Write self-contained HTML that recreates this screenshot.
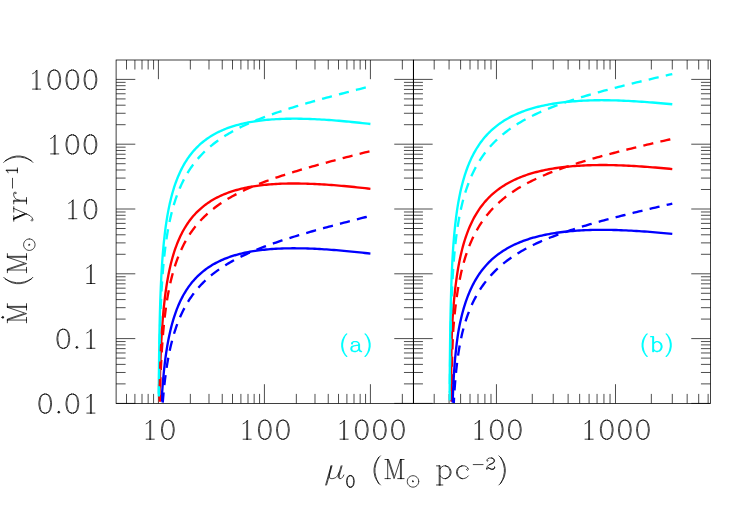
<!DOCTYPE html><html><head><meta charset="utf-8"><title>plot</title><style>html,body{margin:0;padding:0;background:#fff;font-family:"Liberation Sans",sans-serif}svg{display:block}</style></head><body><svg width="750" height="518" viewBox="0 0 750 518" fill="none"><defs><clipPath id="cl"><rect x="116.10" y="60.00" width="594.35" height="343.40"/></clipPath></defs><path d="M126.51 403.40L126.51 393.90" stroke="#000" stroke-width="0.70" />
<path d="M126.51 60.00L126.51 69.50" stroke="#000" stroke-width="0.70" />
<path d="M134.90 403.40L134.90 393.90" stroke="#000" stroke-width="0.70" />
<path d="M134.90 60.00L134.90 69.50" stroke="#000" stroke-width="0.70" />
<path d="M142.00 403.40L142.00 393.90" stroke="#000" stroke-width="0.70" />
<path d="M142.00 60.00L142.00 69.50" stroke="#000" stroke-width="0.70" />
<path d="M148.15 403.40L148.15 393.90" stroke="#000" stroke-width="0.70" />
<path d="M148.15 60.00L148.15 69.50" stroke="#000" stroke-width="0.70" />
<path d="M153.57 403.40L153.57 393.90" stroke="#000" stroke-width="0.70" />
<path d="M153.57 60.00L153.57 69.50" stroke="#000" stroke-width="0.70" />
<path d="M158.42 403.40L158.42 384.20" stroke="#000" stroke-width="0.70" />
<path d="M158.42 60.00L158.42 79.20" stroke="#000" stroke-width="0.70" />
<path d="M190.33 403.40L190.33 393.90" stroke="#000" stroke-width="0.70" />
<path d="M190.33 60.00L190.33 69.50" stroke="#000" stroke-width="0.70" />
<path d="M208.99 403.40L208.99 393.90" stroke="#000" stroke-width="0.70" />
<path d="M208.99 60.00L208.99 69.50" stroke="#000" stroke-width="0.70" />
<path d="M222.24 403.40L222.24 393.90" stroke="#000" stroke-width="0.70" />
<path d="M222.24 60.00L222.24 69.50" stroke="#000" stroke-width="0.70" />
<path d="M232.51 403.40L232.51 393.90" stroke="#000" stroke-width="0.70" />
<path d="M232.51 60.00L232.51 69.50" stroke="#000" stroke-width="0.70" />
<path d="M240.90 403.40L240.90 393.90" stroke="#000" stroke-width="0.70" />
<path d="M240.90 60.00L240.90 69.50" stroke="#000" stroke-width="0.70" />
<path d="M248.00 403.40L248.00 393.90" stroke="#000" stroke-width="0.70" />
<path d="M248.00 60.00L248.00 69.50" stroke="#000" stroke-width="0.70" />
<path d="M254.15 403.40L254.15 393.90" stroke="#000" stroke-width="0.70" />
<path d="M254.15 60.00L254.15 69.50" stroke="#000" stroke-width="0.70" />
<path d="M259.57 403.40L259.57 393.90" stroke="#000" stroke-width="0.70" />
<path d="M259.57 60.00L259.57 69.50" stroke="#000" stroke-width="0.70" />
<path d="M264.42 403.40L264.42 384.20" stroke="#000" stroke-width="0.70" />
<path d="M264.42 60.00L264.42 79.20" stroke="#000" stroke-width="0.70" />
<path d="M296.33 403.40L296.33 393.90" stroke="#000" stroke-width="0.70" />
<path d="M296.33 60.00L296.33 69.50" stroke="#000" stroke-width="0.70" />
<path d="M314.99 403.40L314.99 393.90" stroke="#000" stroke-width="0.70" />
<path d="M314.99 60.00L314.99 69.50" stroke="#000" stroke-width="0.70" />
<path d="M328.24 403.40L328.24 393.90" stroke="#000" stroke-width="0.70" />
<path d="M328.24 60.00L328.24 69.50" stroke="#000" stroke-width="0.70" />
<path d="M338.51 403.40L338.51 393.90" stroke="#000" stroke-width="0.70" />
<path d="M338.51 60.00L338.51 69.50" stroke="#000" stroke-width="0.70" />
<path d="M346.90 403.40L346.90 393.90" stroke="#000" stroke-width="0.70" />
<path d="M346.90 60.00L346.90 69.50" stroke="#000" stroke-width="0.70" />
<path d="M354.00 403.40L354.00 393.90" stroke="#000" stroke-width="0.70" />
<path d="M354.00 60.00L354.00 69.50" stroke="#000" stroke-width="0.70" />
<path d="M360.15 403.40L360.15 393.90" stroke="#000" stroke-width="0.70" />
<path d="M360.15 60.00L360.15 69.50" stroke="#000" stroke-width="0.70" />
<path d="M365.57 403.40L365.57 393.90" stroke="#000" stroke-width="0.70" />
<path d="M365.57 60.00L365.57 69.50" stroke="#000" stroke-width="0.70" />
<path d="M370.42 403.40L370.42 384.20" stroke="#000" stroke-width="0.70" />
<path d="M370.42 60.00L370.42 79.20" stroke="#000" stroke-width="0.70" />
<path d="M402.33 403.40L402.33 393.90" stroke="#000" stroke-width="0.70" />
<path d="M402.33 60.00L402.33 69.50" stroke="#000" stroke-width="0.70" />
<path d="M116.10 403.40L135.30 403.40" stroke="#000" stroke-width="0.70" />
<path d="M413.45 403.40L394.25 403.40" stroke="#000" stroke-width="0.70" />
<path d="M116.10 383.89L125.60 383.89" stroke="#000" stroke-width="0.70" />
<path d="M413.45 383.89L403.95 383.89" stroke="#000" stroke-width="0.70" />
<path d="M116.10 372.48L125.60 372.48" stroke="#000" stroke-width="0.70" />
<path d="M413.45 372.48L403.95 372.48" stroke="#000" stroke-width="0.70" />
<path d="M116.10 364.39L125.60 364.39" stroke="#000" stroke-width="0.70" />
<path d="M413.45 364.39L403.95 364.39" stroke="#000" stroke-width="0.70" />
<path d="M116.10 358.11L125.60 358.11" stroke="#000" stroke-width="0.70" />
<path d="M413.45 358.11L403.95 358.11" stroke="#000" stroke-width="0.70" />
<path d="M116.10 352.98L125.60 352.98" stroke="#000" stroke-width="0.70" />
<path d="M413.45 352.98L403.95 352.98" stroke="#000" stroke-width="0.70" />
<path d="M116.10 348.64L125.60 348.64" stroke="#000" stroke-width="0.70" />
<path d="M413.45 348.64L403.95 348.64" stroke="#000" stroke-width="0.70" />
<path d="M116.10 344.88L125.60 344.88" stroke="#000" stroke-width="0.70" />
<path d="M413.45 344.88L403.95 344.88" stroke="#000" stroke-width="0.70" />
<path d="M116.10 341.57L125.60 341.57" stroke="#000" stroke-width="0.70" />
<path d="M413.45 341.57L403.95 341.57" stroke="#000" stroke-width="0.70" />
<path d="M116.10 338.60L135.30 338.60" stroke="#000" stroke-width="0.70" />
<path d="M413.45 338.60L394.25 338.60" stroke="#000" stroke-width="0.70" />
<path d="M116.10 319.09L125.60 319.09" stroke="#000" stroke-width="0.70" />
<path d="M413.45 319.09L403.95 319.09" stroke="#000" stroke-width="0.70" />
<path d="M116.10 307.68L125.60 307.68" stroke="#000" stroke-width="0.70" />
<path d="M413.45 307.68L403.95 307.68" stroke="#000" stroke-width="0.70" />
<path d="M116.10 299.59L125.60 299.59" stroke="#000" stroke-width="0.70" />
<path d="M413.45 299.59L403.95 299.59" stroke="#000" stroke-width="0.70" />
<path d="M116.10 293.31L125.60 293.31" stroke="#000" stroke-width="0.70" />
<path d="M413.45 293.31L403.95 293.31" stroke="#000" stroke-width="0.70" />
<path d="M116.10 288.18L125.60 288.18" stroke="#000" stroke-width="0.70" />
<path d="M413.45 288.18L403.95 288.18" stroke="#000" stroke-width="0.70" />
<path d="M116.10 283.84L125.60 283.84" stroke="#000" stroke-width="0.70" />
<path d="M413.45 283.84L403.95 283.84" stroke="#000" stroke-width="0.70" />
<path d="M116.10 280.08L125.60 280.08" stroke="#000" stroke-width="0.70" />
<path d="M413.45 280.08L403.95 280.08" stroke="#000" stroke-width="0.70" />
<path d="M116.10 276.77L125.60 276.77" stroke="#000" stroke-width="0.70" />
<path d="M413.45 276.77L403.95 276.77" stroke="#000" stroke-width="0.70" />
<path d="M116.10 273.80L135.30 273.80" stroke="#000" stroke-width="0.70" />
<path d="M413.45 273.80L394.25 273.80" stroke="#000" stroke-width="0.70" />
<path d="M116.10 254.29L125.60 254.29" stroke="#000" stroke-width="0.70" />
<path d="M413.45 254.29L403.95 254.29" stroke="#000" stroke-width="0.70" />
<path d="M116.10 242.88L125.60 242.88" stroke="#000" stroke-width="0.70" />
<path d="M413.45 242.88L403.95 242.88" stroke="#000" stroke-width="0.70" />
<path d="M116.10 234.79L125.60 234.79" stroke="#000" stroke-width="0.70" />
<path d="M413.45 234.79L403.95 234.79" stroke="#000" stroke-width="0.70" />
<path d="M116.10 228.51L125.60 228.51" stroke="#000" stroke-width="0.70" />
<path d="M413.45 228.51L403.95 228.51" stroke="#000" stroke-width="0.70" />
<path d="M116.10 223.38L125.60 223.38" stroke="#000" stroke-width="0.70" />
<path d="M413.45 223.38L403.95 223.38" stroke="#000" stroke-width="0.70" />
<path d="M116.10 219.04L125.60 219.04" stroke="#000" stroke-width="0.70" />
<path d="M413.45 219.04L403.95 219.04" stroke="#000" stroke-width="0.70" />
<path d="M116.10 215.28L125.60 215.28" stroke="#000" stroke-width="0.70" />
<path d="M413.45 215.28L403.95 215.28" stroke="#000" stroke-width="0.70" />
<path d="M116.10 211.97L125.60 211.97" stroke="#000" stroke-width="0.70" />
<path d="M413.45 211.97L403.95 211.97" stroke="#000" stroke-width="0.70" />
<path d="M116.10 209.00L135.30 209.00" stroke="#000" stroke-width="0.70" />
<path d="M413.45 209.00L394.25 209.00" stroke="#000" stroke-width="0.70" />
<path d="M116.10 189.49L125.60 189.49" stroke="#000" stroke-width="0.70" />
<path d="M413.45 189.49L403.95 189.49" stroke="#000" stroke-width="0.70" />
<path d="M116.10 178.08L125.60 178.08" stroke="#000" stroke-width="0.70" />
<path d="M413.45 178.08L403.95 178.08" stroke="#000" stroke-width="0.70" />
<path d="M116.10 169.99L125.60 169.99" stroke="#000" stroke-width="0.70" />
<path d="M413.45 169.99L403.95 169.99" stroke="#000" stroke-width="0.70" />
<path d="M116.10 163.71L125.60 163.71" stroke="#000" stroke-width="0.70" />
<path d="M413.45 163.71L403.95 163.71" stroke="#000" stroke-width="0.70" />
<path d="M116.10 158.58L125.60 158.58" stroke="#000" stroke-width="0.70" />
<path d="M413.45 158.58L403.95 158.58" stroke="#000" stroke-width="0.70" />
<path d="M116.10 154.24L125.60 154.24" stroke="#000" stroke-width="0.70" />
<path d="M413.45 154.24L403.95 154.24" stroke="#000" stroke-width="0.70" />
<path d="M116.10 150.48L125.60 150.48" stroke="#000" stroke-width="0.70" />
<path d="M413.45 150.48L403.95 150.48" stroke="#000" stroke-width="0.70" />
<path d="M116.10 147.17L125.60 147.17" stroke="#000" stroke-width="0.70" />
<path d="M413.45 147.17L403.95 147.17" stroke="#000" stroke-width="0.70" />
<path d="M116.10 144.20L135.30 144.20" stroke="#000" stroke-width="0.70" />
<path d="M413.45 144.20L394.25 144.20" stroke="#000" stroke-width="0.70" />
<path d="M116.10 124.69L125.60 124.69" stroke="#000" stroke-width="0.70" />
<path d="M413.45 124.69L403.95 124.69" stroke="#000" stroke-width="0.70" />
<path d="M116.10 113.28L125.60 113.28" stroke="#000" stroke-width="0.70" />
<path d="M413.45 113.28L403.95 113.28" stroke="#000" stroke-width="0.70" />
<path d="M116.10 105.19L125.60 105.19" stroke="#000" stroke-width="0.70" />
<path d="M413.45 105.19L403.95 105.19" stroke="#000" stroke-width="0.70" />
<path d="M116.10 98.91L125.60 98.91" stroke="#000" stroke-width="0.70" />
<path d="M413.45 98.91L403.95 98.91" stroke="#000" stroke-width="0.70" />
<path d="M116.10 93.78L125.60 93.78" stroke="#000" stroke-width="0.70" />
<path d="M413.45 93.78L403.95 93.78" stroke="#000" stroke-width="0.70" />
<path d="M116.10 89.44L125.60 89.44" stroke="#000" stroke-width="0.70" />
<path d="M413.45 89.44L403.95 89.44" stroke="#000" stroke-width="0.70" />
<path d="M116.10 85.68L125.60 85.68" stroke="#000" stroke-width="0.70" />
<path d="M413.45 85.68L403.95 85.68" stroke="#000" stroke-width="0.70" />
<path d="M116.10 82.37L125.60 82.37" stroke="#000" stroke-width="0.70" />
<path d="M413.45 82.37L403.95 82.37" stroke="#000" stroke-width="0.70" />
<path d="M116.10 79.40L135.30 79.40" stroke="#000" stroke-width="0.70" />
<path d="M413.45 79.40L394.25 79.40" stroke="#000" stroke-width="0.70" />
<rect x="116.10" y="60.00" width="297.35" height="343.40" stroke="#000" stroke-width="0.75"/>
<path d="M434.19 403.40L434.19 393.90" stroke="#000" stroke-width="0.70" />
<path d="M434.19 60.00L434.19 69.50" stroke="#000" stroke-width="0.70" />
<path d="M449.07 403.40L449.07 393.90" stroke="#000" stroke-width="0.70" />
<path d="M449.07 60.00L449.07 69.50" stroke="#000" stroke-width="0.70" />
<path d="M460.60 403.40L460.60 393.90" stroke="#000" stroke-width="0.70" />
<path d="M460.60 60.00L460.60 69.50" stroke="#000" stroke-width="0.70" />
<path d="M470.03 403.40L470.03 393.90" stroke="#000" stroke-width="0.70" />
<path d="M470.03 60.00L470.03 69.50" stroke="#000" stroke-width="0.70" />
<path d="M478.00 403.40L478.00 393.90" stroke="#000" stroke-width="0.70" />
<path d="M478.00 60.00L478.00 69.50" stroke="#000" stroke-width="0.70" />
<path d="M484.90 403.40L484.90 393.90" stroke="#000" stroke-width="0.70" />
<path d="M484.90 60.00L484.90 69.50" stroke="#000" stroke-width="0.70" />
<path d="M490.99 403.40L490.99 393.90" stroke="#000" stroke-width="0.70" />
<path d="M490.99 60.00L490.99 69.50" stroke="#000" stroke-width="0.70" />
<path d="M496.44 403.40L496.44 384.20" stroke="#000" stroke-width="0.70" />
<path d="M496.44 60.00L496.44 79.20" stroke="#000" stroke-width="0.70" />
<path d="M532.28 403.40L532.28 393.90" stroke="#000" stroke-width="0.70" />
<path d="M532.28 60.00L532.28 69.50" stroke="#000" stroke-width="0.70" />
<path d="M553.24 403.40L553.24 393.90" stroke="#000" stroke-width="0.70" />
<path d="M553.24 60.00L553.24 69.50" stroke="#000" stroke-width="0.70" />
<path d="M568.12 403.40L568.12 393.90" stroke="#000" stroke-width="0.70" />
<path d="M568.12 60.00L568.12 69.50" stroke="#000" stroke-width="0.70" />
<path d="M579.65 403.40L579.65 393.90" stroke="#000" stroke-width="0.70" />
<path d="M579.65 60.00L579.65 69.50" stroke="#000" stroke-width="0.70" />
<path d="M589.08 403.40L589.08 393.90" stroke="#000" stroke-width="0.70" />
<path d="M589.08 60.00L589.08 69.50" stroke="#000" stroke-width="0.70" />
<path d="M597.05 403.40L597.05 393.90" stroke="#000" stroke-width="0.70" />
<path d="M597.05 60.00L597.05 69.50" stroke="#000" stroke-width="0.70" />
<path d="M603.95 403.40L603.95 393.90" stroke="#000" stroke-width="0.70" />
<path d="M603.95 60.00L603.95 69.50" stroke="#000" stroke-width="0.70" />
<path d="M610.04 403.40L610.04 393.90" stroke="#000" stroke-width="0.70" />
<path d="M610.04 60.00L610.04 69.50" stroke="#000" stroke-width="0.70" />
<path d="M615.49 403.40L615.49 384.20" stroke="#000" stroke-width="0.70" />
<path d="M615.49 60.00L615.49 79.20" stroke="#000" stroke-width="0.70" />
<path d="M651.33 403.40L651.33 393.90" stroke="#000" stroke-width="0.70" />
<path d="M651.33 60.00L651.33 69.50" stroke="#000" stroke-width="0.70" />
<path d="M672.29 403.40L672.29 393.90" stroke="#000" stroke-width="0.70" />
<path d="M672.29 60.00L672.29 69.50" stroke="#000" stroke-width="0.70" />
<path d="M687.17 403.40L687.17 393.90" stroke="#000" stroke-width="0.70" />
<path d="M687.17 60.00L687.17 69.50" stroke="#000" stroke-width="0.70" />
<path d="M698.70 403.40L698.70 393.90" stroke="#000" stroke-width="0.70" />
<path d="M698.70 60.00L698.70 69.50" stroke="#000" stroke-width="0.70" />
<path d="M708.13 403.40L708.13 393.90" stroke="#000" stroke-width="0.70" />
<path d="M708.13 60.00L708.13 69.50" stroke="#000" stroke-width="0.70" />
<path d="M413.45 403.40L432.65 403.40" stroke="#000" stroke-width="0.70" />
<path d="M710.45 403.40L691.25 403.40" stroke="#000" stroke-width="0.70" />
<path d="M413.45 383.89L422.95 383.89" stroke="#000" stroke-width="0.70" />
<path d="M710.45 383.89L700.95 383.89" stroke="#000" stroke-width="0.70" />
<path d="M413.45 372.48L422.95 372.48" stroke="#000" stroke-width="0.70" />
<path d="M710.45 372.48L700.95 372.48" stroke="#000" stroke-width="0.70" />
<path d="M413.45 364.39L422.95 364.39" stroke="#000" stroke-width="0.70" />
<path d="M710.45 364.39L700.95 364.39" stroke="#000" stroke-width="0.70" />
<path d="M413.45 358.11L422.95 358.11" stroke="#000" stroke-width="0.70" />
<path d="M710.45 358.11L700.95 358.11" stroke="#000" stroke-width="0.70" />
<path d="M413.45 352.98L422.95 352.98" stroke="#000" stroke-width="0.70" />
<path d="M710.45 352.98L700.95 352.98" stroke="#000" stroke-width="0.70" />
<path d="M413.45 348.64L422.95 348.64" stroke="#000" stroke-width="0.70" />
<path d="M710.45 348.64L700.95 348.64" stroke="#000" stroke-width="0.70" />
<path d="M413.45 344.88L422.95 344.88" stroke="#000" stroke-width="0.70" />
<path d="M710.45 344.88L700.95 344.88" stroke="#000" stroke-width="0.70" />
<path d="M413.45 341.57L422.95 341.57" stroke="#000" stroke-width="0.70" />
<path d="M710.45 341.57L700.95 341.57" stroke="#000" stroke-width="0.70" />
<path d="M413.45 338.60L432.65 338.60" stroke="#000" stroke-width="0.70" />
<path d="M710.45 338.60L691.25 338.60" stroke="#000" stroke-width="0.70" />
<path d="M413.45 319.09L422.95 319.09" stroke="#000" stroke-width="0.70" />
<path d="M710.45 319.09L700.95 319.09" stroke="#000" stroke-width="0.70" />
<path d="M413.45 307.68L422.95 307.68" stroke="#000" stroke-width="0.70" />
<path d="M710.45 307.68L700.95 307.68" stroke="#000" stroke-width="0.70" />
<path d="M413.45 299.59L422.95 299.59" stroke="#000" stroke-width="0.70" />
<path d="M710.45 299.59L700.95 299.59" stroke="#000" stroke-width="0.70" />
<path d="M413.45 293.31L422.95 293.31" stroke="#000" stroke-width="0.70" />
<path d="M710.45 293.31L700.95 293.31" stroke="#000" stroke-width="0.70" />
<path d="M413.45 288.18L422.95 288.18" stroke="#000" stroke-width="0.70" />
<path d="M710.45 288.18L700.95 288.18" stroke="#000" stroke-width="0.70" />
<path d="M413.45 283.84L422.95 283.84" stroke="#000" stroke-width="0.70" />
<path d="M710.45 283.84L700.95 283.84" stroke="#000" stroke-width="0.70" />
<path d="M413.45 280.08L422.95 280.08" stroke="#000" stroke-width="0.70" />
<path d="M710.45 280.08L700.95 280.08" stroke="#000" stroke-width="0.70" />
<path d="M413.45 276.77L422.95 276.77" stroke="#000" stroke-width="0.70" />
<path d="M710.45 276.77L700.95 276.77" stroke="#000" stroke-width="0.70" />
<path d="M413.45 273.80L432.65 273.80" stroke="#000" stroke-width="0.70" />
<path d="M710.45 273.80L691.25 273.80" stroke="#000" stroke-width="0.70" />
<path d="M413.45 254.29L422.95 254.29" stroke="#000" stroke-width="0.70" />
<path d="M710.45 254.29L700.95 254.29" stroke="#000" stroke-width="0.70" />
<path d="M413.45 242.88L422.95 242.88" stroke="#000" stroke-width="0.70" />
<path d="M710.45 242.88L700.95 242.88" stroke="#000" stroke-width="0.70" />
<path d="M413.45 234.79L422.95 234.79" stroke="#000" stroke-width="0.70" />
<path d="M710.45 234.79L700.95 234.79" stroke="#000" stroke-width="0.70" />
<path d="M413.45 228.51L422.95 228.51" stroke="#000" stroke-width="0.70" />
<path d="M710.45 228.51L700.95 228.51" stroke="#000" stroke-width="0.70" />
<path d="M413.45 223.38L422.95 223.38" stroke="#000" stroke-width="0.70" />
<path d="M710.45 223.38L700.95 223.38" stroke="#000" stroke-width="0.70" />
<path d="M413.45 219.04L422.95 219.04" stroke="#000" stroke-width="0.70" />
<path d="M710.45 219.04L700.95 219.04" stroke="#000" stroke-width="0.70" />
<path d="M413.45 215.28L422.95 215.28" stroke="#000" stroke-width="0.70" />
<path d="M710.45 215.28L700.95 215.28" stroke="#000" stroke-width="0.70" />
<path d="M413.45 211.97L422.95 211.97" stroke="#000" stroke-width="0.70" />
<path d="M710.45 211.97L700.95 211.97" stroke="#000" stroke-width="0.70" />
<path d="M413.45 209.00L432.65 209.00" stroke="#000" stroke-width="0.70" />
<path d="M710.45 209.00L691.25 209.00" stroke="#000" stroke-width="0.70" />
<path d="M413.45 189.49L422.95 189.49" stroke="#000" stroke-width="0.70" />
<path d="M710.45 189.49L700.95 189.49" stroke="#000" stroke-width="0.70" />
<path d="M413.45 178.08L422.95 178.08" stroke="#000" stroke-width="0.70" />
<path d="M710.45 178.08L700.95 178.08" stroke="#000" stroke-width="0.70" />
<path d="M413.45 169.99L422.95 169.99" stroke="#000" stroke-width="0.70" />
<path d="M710.45 169.99L700.95 169.99" stroke="#000" stroke-width="0.70" />
<path d="M413.45 163.71L422.95 163.71" stroke="#000" stroke-width="0.70" />
<path d="M710.45 163.71L700.95 163.71" stroke="#000" stroke-width="0.70" />
<path d="M413.45 158.58L422.95 158.58" stroke="#000" stroke-width="0.70" />
<path d="M710.45 158.58L700.95 158.58" stroke="#000" stroke-width="0.70" />
<path d="M413.45 154.24L422.95 154.24" stroke="#000" stroke-width="0.70" />
<path d="M710.45 154.24L700.95 154.24" stroke="#000" stroke-width="0.70" />
<path d="M413.45 150.48L422.95 150.48" stroke="#000" stroke-width="0.70" />
<path d="M710.45 150.48L700.95 150.48" stroke="#000" stroke-width="0.70" />
<path d="M413.45 147.17L422.95 147.17" stroke="#000" stroke-width="0.70" />
<path d="M710.45 147.17L700.95 147.17" stroke="#000" stroke-width="0.70" />
<path d="M413.45 144.20L432.65 144.20" stroke="#000" stroke-width="0.70" />
<path d="M710.45 144.20L691.25 144.20" stroke="#000" stroke-width="0.70" />
<path d="M413.45 124.69L422.95 124.69" stroke="#000" stroke-width="0.70" />
<path d="M710.45 124.69L700.95 124.69" stroke="#000" stroke-width="0.70" />
<path d="M413.45 113.28L422.95 113.28" stroke="#000" stroke-width="0.70" />
<path d="M710.45 113.28L700.95 113.28" stroke="#000" stroke-width="0.70" />
<path d="M413.45 105.19L422.95 105.19" stroke="#000" stroke-width="0.70" />
<path d="M710.45 105.19L700.95 105.19" stroke="#000" stroke-width="0.70" />
<path d="M413.45 98.91L422.95 98.91" stroke="#000" stroke-width="0.70" />
<path d="M710.45 98.91L700.95 98.91" stroke="#000" stroke-width="0.70" />
<path d="M413.45 93.78L422.95 93.78" stroke="#000" stroke-width="0.70" />
<path d="M710.45 93.78L700.95 93.78" stroke="#000" stroke-width="0.70" />
<path d="M413.45 89.44L422.95 89.44" stroke="#000" stroke-width="0.70" />
<path d="M710.45 89.44L700.95 89.44" stroke="#000" stroke-width="0.70" />
<path d="M413.45 85.68L422.95 85.68" stroke="#000" stroke-width="0.70" />
<path d="M710.45 85.68L700.95 85.68" stroke="#000" stroke-width="0.70" />
<path d="M413.45 82.37L422.95 82.37" stroke="#000" stroke-width="0.70" />
<path d="M710.45 82.37L700.95 82.37" stroke="#000" stroke-width="0.70" />
<path d="M413.45 79.40L432.65 79.40" stroke="#000" stroke-width="0.70" />
<path d="M710.45 79.40L691.25 79.40" stroke="#000" stroke-width="0.70" />
<rect x="413.45" y="60.00" width="297.00" height="343.40" stroke="#000" stroke-width="0.75"/>
<path d="M413.45 60.00L413.45 403.40" stroke="#000" stroke-width="1.00" />
<g clip-path="url(#cl)">
<path d="M158.77 393.81L158.86 381.57L158.96 370.37L159.06 360.07L159.18 350.54L159.32 341.68L159.46 333.41L159.61 325.66L159.78 318.36L159.96 311.48L160.15 304.97L160.36 298.79L160.57 292.92L160.80 287.33L161.04 281.99L161.30 276.88L161.57 271.99L161.85 267.30L162.14 262.79L162.45 258.46L162.77 254.29L163.11 250.27L163.46 246.39L163.82 242.65L164.20 239.03L164.59 235.53L164.99 232.14L165.41 228.86L165.84 225.68L166.29 222.60L166.75 219.60L167.23 216.70L167.72 213.88L168.23 211.14L168.75 208.47L169.28 205.88L169.83 203.36L170.39 200.90L170.97 198.51L171.57 196.19L172.17 193.92L172.80 191.71L173.44 189.56L174.09 187.46L174.76 185.42L175.45 183.42L176.15 181.48L176.86 179.58L177.60 177.73L178.34 175.92L179.11 174.16L179.88 172.44L180.68 170.76L181.49 169.12L182.31 167.52L183.15 165.96L184.01 164.44L184.89 162.95L185.77 161.50L186.68 160.08L187.60 158.69L188.54 157.34L189.49 156.02L190.46 154.74L191.45 153.48L192.45 152.25L193.47 151.06L194.51 149.89L195.56 148.75L196.63 147.64L197.71 146.56L198.82 145.50L199.94 144.47L201.07 143.47L202.22 142.49L203.39 141.53L204.58 140.60L205.78 139.70L207.00 138.82L208.24 137.96L209.49 137.12L210.76 136.31L212.05 135.52L213.35 134.75L214.67 134.01L216.01 133.28L217.37 132.58L218.74 131.89L220.13 131.23L221.54 130.59L222.96 129.96L224.41 129.36L225.87 128.77L227.34 128.21L228.84 127.66L230.35 127.13L231.88 126.62L233.43 126.13L234.99 125.65L236.58 125.20L238.18 124.76L239.79 124.34L241.43 123.93L243.08 123.54L244.76 123.17L246.44 122.81L248.15 122.47L249.88 122.15L251.62 121.84L253.38 121.55L255.16 121.27L256.96 121.01L258.77 120.76L260.61 120.53L262.46 120.31L264.33 120.11L266.21 119.92L268.12 119.74L270.04 119.58L271.99 119.43L273.95 119.30L275.93 119.18L277.92 119.07L279.94 118.98L281.97 118.90L284.03 118.84L286.10 118.78L288.19 118.74L290.29 118.71L292.42 118.69L294.57 118.69L296.73 118.70L298.91 118.72L301.11 118.75L303.33 118.80L305.57 118.85L307.83 118.92L310.11 119.00L312.40 119.09L314.71 119.19L317.05 119.30L319.40 119.42L321.77 119.55L324.16 119.70L326.56 119.85L328.99 120.02L331.44 120.20L333.90 120.38L336.39 120.58L338.89 120.78L341.41 121.00L343.95 121.22L346.51 121.46L349.09 121.70L351.69 121.96L354.31 122.22L356.95 122.50L359.60 122.78L362.28 123.07L364.97 123.37L367.69 123.68L370.42 124.00" stroke="#00ffff" stroke-width="2.35"/>
<path d="M159.46 398.21L159.61 390.46L159.78 383.16L159.96 376.28L160.15 369.77L160.36 363.59L160.57 357.72L160.80 352.13L161.04 346.79L161.30 341.68L161.57 336.79L161.85 332.10L162.14 327.59L162.45 323.26L162.77 319.09L163.11 315.07L163.46 311.19L163.82 307.45L164.20 303.83L164.59 300.33L164.99 296.94L165.41 293.66L165.84 290.48L166.29 287.40L166.75 284.40L167.23 281.50L167.72 278.68L168.23 275.94L168.75 273.27L169.28 270.68L169.83 268.16L170.39 265.70L170.97 263.31L171.57 260.99L172.17 258.72L172.80 256.51L173.44 254.36L174.09 252.26L174.76 250.22L175.45 248.22L176.15 246.28L176.86 244.38L177.60 242.53L178.34 240.72L179.11 238.96L179.88 237.24L180.68 235.56L181.49 233.92L182.31 232.32L183.15 230.76L184.01 229.24L184.89 227.75L185.77 226.30L186.68 224.88L187.60 223.49L188.54 222.14L189.49 220.82L190.46 219.54L191.45 218.28L192.45 217.05L193.47 215.86L194.51 214.69L195.56 213.55L196.63 212.44L197.71 211.36L198.82 210.30L199.94 209.27L201.07 208.27L202.22 207.29L203.39 206.33L204.58 205.40L205.78 204.50L207.00 203.62L208.24 202.76L209.49 201.92L210.76 201.11L212.05 200.32L213.35 199.55L214.67 198.81L216.01 198.08L217.37 197.38L218.74 196.69L220.13 196.03L221.54 195.39L222.96 194.76L224.41 194.16L225.87 193.57L227.34 193.01L228.84 192.46L230.35 191.93L231.88 191.42L233.43 190.93L234.99 190.45L236.58 190.00L238.18 189.56L239.79 189.14L241.43 188.73L243.08 188.34L244.76 187.97L246.44 187.61L248.15 187.27L249.88 186.95L251.62 186.64L253.38 186.35L255.16 186.07L256.96 185.81L258.77 185.56L260.61 185.33L262.46 185.11L264.33 184.91L266.21 184.72L268.12 184.54L270.04 184.38L271.99 184.23L273.95 184.10L275.93 183.98L277.92 183.87L279.94 183.78L281.97 183.70L284.03 183.64L286.10 183.58L288.19 183.54L290.29 183.51L292.42 183.49L294.57 183.49L296.73 183.50L298.91 183.52L301.11 183.55L303.33 183.60L305.57 183.65L307.83 183.72L310.11 183.80L312.40 183.89L314.71 183.99L317.05 184.10L319.40 184.22L321.77 184.35L324.16 184.50L326.56 184.65L328.99 184.82L331.44 185.00L333.90 185.18L336.39 185.38L338.89 185.58L341.41 185.80L343.95 186.02L346.51 186.26L349.09 186.50L351.69 186.76L354.31 187.02L356.95 187.30L359.60 187.58L362.28 187.87L364.97 188.17L367.69 188.48L370.42 188.80" stroke="#ff0000" stroke-width="2.35"/>
<path d="M161.57 401.59L161.85 396.90L162.14 392.39L162.45 388.06L162.77 383.89L163.11 379.87L163.46 375.99L163.82 372.25L164.20 368.63L164.59 365.13L164.99 361.74L165.41 358.46L165.84 355.28L166.29 352.20L166.75 349.20L167.23 346.30L167.72 343.48L168.23 340.74L168.75 338.07L169.28 335.48L169.83 332.96L170.39 330.50L170.97 328.11L171.57 325.79L172.17 323.52L172.80 321.31L173.44 319.16L174.09 317.06L174.76 315.02L175.45 313.02L176.15 311.08L176.86 309.18L177.60 307.33L178.34 305.52L179.11 303.76L179.88 302.04L180.68 300.36L181.49 298.72L182.31 297.12L183.15 295.56L184.01 294.04L184.89 292.55L185.77 291.10L186.68 289.68L187.60 288.29L188.54 286.94L189.49 285.62L190.46 284.34L191.45 283.08L192.45 281.85L193.47 280.66L194.51 279.49L195.56 278.35L196.63 277.24L197.71 276.16L198.82 275.10L199.94 274.07L201.07 273.07L202.22 272.09L203.39 271.13L204.58 270.20L205.78 269.30L207.00 268.42L208.24 267.56L209.49 266.72L210.76 265.91L212.05 265.12L213.35 264.35L214.67 263.61L216.01 262.88L217.37 262.18L218.74 261.49L220.13 260.83L221.54 260.19L222.96 259.56L224.41 258.96L225.87 258.37L227.34 257.81L228.84 257.26L230.35 256.73L231.88 256.22L233.43 255.73L234.99 255.25L236.58 254.80L238.18 254.36L239.79 253.94L241.43 253.53L243.08 253.14L244.76 252.77L246.44 252.41L248.15 252.07L249.88 251.75L251.62 251.44L253.38 251.15L255.16 250.87L256.96 250.61L258.77 250.36L260.61 250.13L262.46 249.91L264.33 249.71L266.21 249.52L268.12 249.34L270.04 249.18L271.99 249.03L273.95 248.90L275.93 248.78L277.92 248.67L279.94 248.58L281.97 248.50L284.03 248.44L286.10 248.38L288.19 248.34L290.29 248.31L292.42 248.29L294.57 248.29L296.73 248.30L298.91 248.32L301.11 248.35L303.33 248.40L305.57 248.45L307.83 248.52L310.11 248.60L312.40 248.69L314.71 248.79L317.05 248.90L319.40 249.02L321.77 249.15L324.16 249.30L326.56 249.45L328.99 249.62L331.44 249.80L333.90 249.98L336.39 250.18L338.89 250.38L341.41 250.60L343.95 250.82L346.51 251.06L349.09 251.30L351.69 251.56L354.31 251.82L356.95 252.10L359.60 252.38L362.28 252.67L364.97 252.97L367.69 253.28L370.42 253.60" stroke="#0000ff" stroke-width="2.35"/>
<path d="M162.45 406.32L162.77 402.10L163.11 398.03L163.46 394.10L163.82 390.30L164.20 386.63L164.59 383.07L164.99 379.62L165.41 376.28L165.84 373.03L166.29 369.88L166.75 366.82L167.23 363.84L167.72 360.94L168.23 358.12L168.75 355.38L169.28 352.70L169.83 350.10L170.39 347.55L170.97 345.08L171.57 342.66L172.17 340.29L172.80 337.99L173.44 335.73L174.09 333.53L174.76 331.38L175.45 329.27L176.15 327.21L176.86 325.20L177.60 323.23L178.34 321.30L179.11 319.41L179.88 317.56L180.68 315.75L181.49 313.97L182.31 312.23L183.15 310.53L184.01 308.86L184.89 307.22L185.77 305.61L186.68 304.04L187.60 302.49L188.54 300.97L189.49 299.48L190.46 298.02L191.45 296.59L192.45 295.18L193.47 293.80L194.51 292.44L195.56 291.11L196.63 289.79L197.71 288.51L198.82 287.24L199.94 286.00L201.07 284.78L202.22 283.57L203.39 282.39L204.58 281.23L205.78 280.09L207.00 278.96L208.24 277.85L209.49 276.77L210.76 275.69L212.05 274.64L213.35 273.60L214.67 272.58L216.01 271.57L217.37 270.58L218.74 269.60L220.13 268.63L221.54 267.68L222.96 266.75L224.41 265.82L225.87 264.91L227.34 264.01L228.84 263.13L230.35 262.25L231.88 261.39L233.43 260.54L234.99 259.69L236.58 258.86L238.18 258.04L239.79 257.23L241.43 256.42L243.08 255.63L244.76 254.84L246.44 254.07L248.15 253.30L249.88 252.53L251.62 251.78L253.38 251.03L255.16 250.29L256.96 249.56L258.77 248.83L260.61 248.11L262.46 247.39L264.33 246.68L266.21 245.98L268.12 245.28L270.04 244.58L271.99 243.89L273.95 243.20L275.93 242.52L277.92 241.84L279.94 241.16L281.97 240.49L284.03 239.82L286.10 239.15L288.19 238.48L290.29 237.82L292.42 237.16L294.57 236.50L296.73 235.84L298.91 235.18L301.11 234.53L303.33 233.87L305.57 233.22L307.83 232.56L310.11 231.91L312.40 231.25L314.71 230.60L317.05 229.95L319.40 229.29L321.77 228.64L324.16 227.98L326.56 227.33L328.99 226.67L331.44 226.01L333.90 225.35L336.39 224.69L338.89 224.02L341.41 223.36L343.95 222.69L346.51 222.02L349.09 221.35L351.69 220.67L354.31 220.00L356.95 219.32L359.60 218.64L362.28 217.95L364.97 217.26L367.69 216.57L370.42 215.88" stroke="#0000ff" stroke-width="2.35" stroke-dasharray="10.2 7.3" stroke-dashoffset="13.84"/>
<path d="M159.78 401.81L159.96 394.90L160.15 388.36L160.36 382.16L160.57 376.25L160.80 370.62L161.04 365.25L161.30 360.11L161.57 355.18L161.85 350.44L162.14 345.90L162.45 341.52L162.77 337.30L163.11 333.23L163.46 329.30L163.82 325.50L164.20 321.83L164.59 318.27L164.99 314.82L165.41 311.48L165.84 308.23L166.29 305.08L166.75 302.02L167.23 299.04L167.72 296.14L168.23 293.32L168.75 290.58L169.28 287.90L169.83 285.30L170.39 282.75L170.97 280.28L171.57 277.86L172.17 275.49L172.80 273.19L173.44 270.93L174.09 268.73L174.76 266.58L175.45 264.47L176.15 262.41L176.86 260.40L177.60 258.43L178.34 256.50L179.11 254.61L179.88 252.76L180.68 250.95L181.49 249.17L182.31 247.43L183.15 245.73L184.01 244.06L184.89 242.42L185.77 240.81L186.68 239.24L187.60 237.69L188.54 236.17L189.49 234.68L190.46 233.22L191.45 231.79L192.45 230.38L193.47 229.00L194.51 227.64L195.56 226.31L196.63 224.99L197.71 223.71L198.82 222.44L199.94 221.20L201.07 219.98L202.22 218.77L203.39 217.59L204.58 216.43L205.78 215.29L207.00 214.16L208.24 213.05L209.49 211.97L210.76 210.89L212.05 209.84L213.35 208.80L214.67 207.78L216.01 206.77L217.37 205.78L218.74 204.80L220.13 203.83L221.54 202.88L222.96 201.95L224.41 201.02L225.87 200.11L227.34 199.21L228.84 198.33L230.35 197.45L231.88 196.59L233.43 195.74L234.99 194.89L236.58 194.06L238.18 193.24L239.79 192.43L241.43 191.62L243.08 190.83L244.76 190.04L246.44 189.27L248.15 188.50L249.88 187.73L251.62 186.98L253.38 186.23L255.16 185.49L256.96 184.76L258.77 184.03L260.61 183.31L262.46 182.59L264.33 181.88L266.21 181.18L268.12 180.48L270.04 179.78L271.99 179.09L273.95 178.40L275.93 177.72L277.92 177.04L279.94 176.36L281.97 175.69L284.03 175.02L286.10 174.35L288.19 173.68L290.29 173.02L292.42 172.36L294.57 171.70L296.73 171.04L298.91 170.38L301.11 169.73L303.33 169.07L305.57 168.42L307.83 167.76L310.11 167.11L312.40 166.45L314.71 165.80L317.05 165.15L319.40 164.49L321.77 163.84L324.16 163.18L326.56 162.53L328.99 161.87L331.44 161.21L333.90 160.55L336.39 159.89L338.89 159.22L341.41 158.56L343.95 157.89L346.51 157.22L349.09 156.55L351.69 155.87L354.31 155.20L356.95 154.52L359.60 153.84L362.28 153.15L364.97 152.46L367.69 151.77L370.42 151.08" stroke="#ff0000" stroke-width="2.35" stroke-dasharray="10.2 7.3" stroke-dashoffset="3.20"/>
<path d="M158.86 400.34L158.96 389.13L159.06 378.82L159.18 369.27L159.32 360.39L159.46 352.10L159.61 344.32L159.78 337.01L159.96 330.10L160.15 323.56L160.36 317.36L160.57 311.45L160.80 305.82L161.04 300.45L161.30 295.31L161.57 290.38L161.85 285.64L162.14 281.10L162.45 276.72L162.77 272.50L163.11 268.43L163.46 264.50L163.82 260.70L164.20 257.03L164.59 253.47L164.99 250.02L165.41 246.68L165.84 243.43L166.29 240.28L166.75 237.22L167.23 234.24L167.72 231.34L168.23 228.52L168.75 225.78L169.28 223.10L169.83 220.50L170.39 217.95L170.97 215.48L171.57 213.06L172.17 210.69L172.80 208.39L173.44 206.13L174.09 203.93L174.76 201.78L175.45 199.67L176.15 197.61L176.86 195.60L177.60 193.63L178.34 191.70L179.11 189.81L179.88 187.96L180.68 186.15L181.49 184.37L182.31 182.63L183.15 180.93L184.01 179.26L184.89 177.62L185.77 176.01L186.68 174.44L187.60 172.89L188.54 171.37L189.49 169.88L190.46 168.42L191.45 166.99L192.45 165.58L193.47 164.20L194.51 162.84L195.56 161.51L196.63 160.19L197.71 158.91L198.82 157.64L199.94 156.40L201.07 155.18L202.22 153.97L203.39 152.79L204.58 151.63L205.78 150.49L207.00 149.36L208.24 148.25L209.49 147.17L210.76 146.09L212.05 145.04L213.35 144.00L214.67 142.98L216.01 141.97L217.37 140.98L218.74 140.00L220.13 139.03L221.54 138.08L222.96 137.15L224.41 136.22L225.87 135.31L227.34 134.41L228.84 133.53L230.35 132.65L231.88 131.79L233.43 130.94L234.99 130.09L236.58 129.26L238.18 128.44L239.79 127.63L241.43 126.82L243.08 126.03L244.76 125.24L246.44 124.47L248.15 123.70L249.88 122.93L251.62 122.18L253.38 121.43L255.16 120.69L256.96 119.96L258.77 119.23L260.61 118.51L262.46 117.79L264.33 117.08L266.21 116.38L268.12 115.68L270.04 114.98L271.99 114.29L273.95 113.60L275.93 112.92L277.92 112.24L279.94 111.56L281.97 110.89L284.03 110.22L286.10 109.55L288.19 108.88L290.29 108.22L292.42 107.56L294.57 106.90L296.73 106.24L298.91 105.58L301.11 104.93L303.33 104.27L305.57 103.62L307.83 102.96L310.11 102.31L312.40 101.65L314.71 101.00L317.05 100.35L319.40 99.69L321.77 99.04L324.16 98.38L326.56 97.73L328.99 97.07L331.44 96.41L333.90 95.75L336.39 95.09L338.89 94.42L341.41 93.76L343.95 93.09L346.51 92.42L349.09 91.75L351.69 91.07L354.31 90.40L356.95 89.72L359.60 89.04L362.28 88.35L364.97 87.66L367.69 86.97L370.42 86.28" stroke="#00ffff" stroke-width="2.35" stroke-dasharray="10.2 7.3" stroke-dashoffset="13.67"/>
<path d="M451.23 401.04L451.20 392.19L451.19 383.93L451.21 376.18L451.25 368.89L451.30 362.01L451.38 355.50L451.48 349.32L451.59 343.45L451.72 337.85L451.88 332.51L452.10 327.39L452.38 322.50L452.68 317.80L452.99 313.29L453.31 308.95L453.65 304.77L454.00 300.74L454.37 296.85L454.75 293.10L455.15 289.47L455.56 285.96L455.99 282.56L456.43 279.27L456.88 276.08L457.36 272.98L457.84 269.97L458.34 267.05L458.86 264.22L459.39 261.46L459.94 258.78L460.50 256.17L461.08 253.64L461.67 251.16L462.28 248.76L462.91 246.41L463.55 244.13L464.21 241.90L464.88 239.73L465.57 237.62L466.27 235.55L467.00 233.54L467.73 231.57L468.49 229.65L469.26 227.78L470.04 225.95L470.85 224.17L471.67 222.42L472.50 220.72L473.36 219.06L474.22 217.43L475.11 215.85L476.01 214.30L476.93 212.79L477.87 211.31L478.82 209.86L479.79 208.45L480.78 207.07L481.79 205.73L482.81 204.41L483.85 203.13L484.90 201.87L485.98 200.65L487.07 199.45L488.17 198.28L489.30 197.14L490.44 196.03L491.60 194.94L492.78 193.88L493.98 192.85L495.19 191.84L496.42 190.85L497.67 189.89L498.93 188.95L500.22 188.04L501.52 187.15L502.84 186.27L504.18 185.41L505.53 184.58L506.91 183.77L508.30 182.97L509.71 182.20L511.13 181.45L512.58 180.72L514.04 180.01L515.53 179.32L517.03 178.65L518.55 178.00L520.08 177.37L521.64 176.75L523.21 176.15L524.81 175.57L526.42 175.01L528.05 174.47L529.69 173.94L531.36 173.44L533.05 172.94L534.75 172.47L536.47 172.01L538.21 171.56L539.97 171.14L541.75 170.73L543.55 170.33L545.37 169.95L547.20 169.59L549.06 169.24L550.93 168.90L552.82 168.58L554.73 168.28L556.66 167.98L558.61 167.71L560.58 167.45L562.57 167.20L564.58 166.97L566.60 166.75L568.65 166.55L570.71 166.35L572.79 166.18L574.90 166.01L577.02 165.86L579.16 165.72L581.32 165.59L583.50 165.48L585.70 165.38L587.92 165.29L590.16 165.21L592.42 165.15L594.70 165.09L597.00 165.05L599.32 165.02L601.65 165.00L604.01 165.00L606.39 165.02L608.78 165.06L611.20 165.11L613.64 165.17L616.09 165.24L618.57 165.32L621.06 165.41L623.58 165.52L626.11 165.63L628.67 165.75L631.24 165.89L633.84 166.03L636.46 166.19L639.09 166.35L641.75 166.53L644.42 166.71L647.12 166.90L649.83 167.11L652.57 167.32L655.33 167.54L658.10 167.78L660.90 168.02L663.72 168.27L666.56 168.52L669.41 168.79L672.29 169.07" stroke="#ff0000" stroke-width="2.35"/>
<path d="M451.56 404.82L451.61 397.05L451.65 389.74L451.70 382.84L451.78 376.30L451.87 370.10L451.99 364.20L452.12 358.57L452.27 353.19L452.44 348.04L452.63 343.11L452.84 338.38L453.06 333.82L453.31 329.44L453.65 325.22L454.00 321.14L454.37 317.21L454.75 313.40L455.15 309.72L455.56 306.16L455.99 302.70L456.43 299.35L456.88 296.10L457.36 292.94L457.84 289.87L458.34 286.88L458.86 283.98L459.39 281.15L459.94 278.40L460.50 275.71L461.08 273.09L461.67 270.54L462.28 268.05L462.91 265.62L463.55 263.25L464.21 260.93L464.88 258.67L465.57 256.45L466.27 254.29L467.00 252.17L467.73 250.10L468.49 248.07L469.26 246.09L470.04 244.15L470.85 242.25L471.67 240.39L472.50 238.56L473.36 236.77L474.22 235.02L475.11 233.30L476.01 231.62L476.93 229.97L477.87 228.35L478.82 226.76L479.79 225.20L480.78 223.67L481.79 222.16L482.81 220.69L483.85 219.24L484.90 217.82L485.98 216.42L487.07 215.05L488.17 213.70L489.30 212.38L490.44 211.08L491.60 209.80L492.78 208.54L493.98 207.30L495.19 206.09L496.42 204.89L497.67 203.71L498.93 202.56L500.22 201.42L501.52 200.30L502.84 199.20L504.18 198.11L505.53 197.04L506.91 195.99L508.30 194.96L509.71 193.94L511.13 192.93L512.58 191.94L514.04 190.97L515.53 190.01L517.03 189.06L518.55 188.12L520.08 187.20L521.64 186.29L523.21 185.40L524.81 184.51L526.42 183.64L528.05 182.78L529.69 181.93L531.36 181.09L533.05 180.26L534.75 179.44L536.47 178.63L538.21 177.83L539.97 177.04L541.75 176.25L543.55 175.48L545.37 174.71L547.20 173.96L549.06 173.21L550.93 172.46L552.82 171.73L554.73 171.00L556.66 170.28L558.61 169.56L560.58 168.85L562.57 168.15L564.58 167.45L566.60 166.75L568.65 166.06L570.71 165.38L572.79 164.70L574.90 164.03L577.02 163.36L579.16 162.69L581.32 162.03L583.50 161.37L585.70 160.71L587.92 160.05L590.16 159.40L592.42 158.75L594.70 158.11L597.00 157.46L599.32 156.82L601.65 156.18L604.01 155.54L606.39 154.90L608.78 154.26L611.20 153.63L613.64 152.99L616.09 152.36L618.57 151.72L621.06 151.09L623.58 150.45L626.11 149.82L628.67 149.18L631.24 148.55L633.84 147.91L636.46 147.27L639.09 146.63L641.75 146.00L644.42 145.35L647.12 144.71L649.83 144.07L652.57 143.42L655.33 142.78L658.10 142.13L660.90 141.48L663.72 140.83L666.56 140.17L669.41 139.51L672.29 138.85" stroke="#ff0000" stroke-width="2.35" stroke-dasharray="10.2 7.3" stroke-dashoffset="14.51"/>
<path d="M449.66 392.80L449.74 379.39L449.83 367.19L449.93 356.03L450.05 345.75L450.17 336.24L450.31 327.39L450.46 319.13L450.62 311.38L450.80 304.09L450.98 297.21L451.16 290.70L451.36 284.52L451.57 278.65L451.79 273.05L452.03 267.71L452.29 262.59L452.55 257.70L452.84 253.00L453.13 248.49L453.44 244.15L453.77 239.97L454.11 235.94L454.47 232.05L454.84 228.30L455.22 224.67L455.63 221.16L456.04 217.76L456.47 214.47L456.92 211.28L457.38 208.18L457.86 205.17L458.35 202.25L458.86 199.42L459.39 196.66L459.94 193.98L460.50 191.37L461.08 188.84L461.67 186.36L462.28 183.96L462.91 181.61L463.55 179.33L464.21 177.10L464.88 174.93L465.57 172.82L466.27 170.75L467.00 168.74L467.73 166.77L468.49 164.85L469.26 162.98L470.04 161.15L470.85 159.37L471.67 157.62L472.50 155.92L473.36 154.26L474.22 152.63L475.11 151.05L476.01 149.50L476.93 147.99L477.87 146.51L478.82 145.06L479.79 143.65L480.78 142.27L481.79 140.93L482.81 139.61L483.85 138.33L484.90 137.07L485.98 135.85L487.07 134.65L488.17 133.48L489.30 132.34L490.44 131.23L491.60 130.14L492.78 129.08L493.98 128.05L495.19 127.04L496.42 126.05L497.67 125.09L498.93 124.15L500.22 123.24L501.52 122.35L502.84 121.47L504.18 120.61L505.53 119.78L506.91 118.97L508.30 118.17L509.71 117.40L511.13 116.65L512.58 115.92L514.04 115.21L515.53 114.52L517.03 113.85L518.55 113.20L520.08 112.57L521.64 111.95L523.21 111.35L524.81 110.77L526.42 110.21L528.05 109.67L529.69 109.14L531.36 108.64L533.05 108.14L534.75 107.67L536.47 107.21L538.21 106.76L539.97 106.34L541.75 105.93L543.55 105.53L545.37 105.15L547.20 104.79L549.06 104.44L550.93 104.10L552.82 103.78L554.73 103.48L556.66 103.18L558.61 102.91L560.58 102.65L562.57 102.40L564.58 102.17L566.60 101.95L568.65 101.75L570.71 101.55L572.79 101.38L574.90 101.21L577.02 101.06L579.16 100.92L581.32 100.79L583.50 100.68L585.70 100.58L587.92 100.49L590.16 100.41L592.42 100.35L594.70 100.29L597.00 100.25L599.32 100.22L601.65 100.20L604.01 100.20L606.39 100.22L608.78 100.26L611.20 100.31L613.64 100.37L616.09 100.44L618.57 100.52L621.06 100.61L623.58 100.72L626.11 100.83L628.67 100.95L631.24 101.09L633.84 101.23L636.46 101.39L639.09 101.55L641.75 101.73L644.42 101.91L647.12 102.10L649.83 102.31L652.57 102.52L655.33 102.74L658.10 102.98L660.90 103.22L663.72 103.47L666.56 103.72L669.41 103.99L672.29 104.27" stroke="#00ffff" stroke-width="2.35"/>
<path d="M449.74 400.37L449.83 388.17L449.93 376.99L450.05 366.70L450.17 357.17L450.31 348.30L450.46 340.02L450.62 332.25L450.80 324.94L450.99 318.04L451.19 311.50L451.40 305.30L451.63 299.40L451.86 293.77L452.09 288.39L452.35 283.24L452.62 278.31L452.90 273.58L453.19 269.02L453.51 264.64L453.83 260.42L454.17 256.34L454.53 252.41L454.90 248.60L455.29 244.92L455.69 241.36L456.10 237.90L456.53 234.55L456.98 231.30L457.44 228.14L457.92 225.07L458.41 222.08L458.92 219.18L459.44 216.35L459.98 213.60L460.53 210.91L461.10 208.29L461.69 205.74L462.29 203.25L462.91 200.82L463.55 198.45L464.21 196.13L464.88 193.87L465.57 191.65L466.27 189.49L467.00 187.37L467.73 185.30L468.49 183.27L469.26 181.29L470.04 179.35L470.85 177.45L471.67 175.59L472.50 173.76L473.36 171.97L474.22 170.22L475.11 168.50L476.01 166.82L476.93 165.17L477.87 163.55L478.82 161.96L479.79 160.40L480.78 158.87L481.79 157.36L482.81 155.89L483.85 154.44L484.90 153.02L485.98 151.62L487.07 150.25L488.17 148.90L489.30 147.58L490.44 146.28L491.60 145.00L492.78 143.74L493.98 142.50L495.19 141.29L496.42 140.09L497.67 138.91L498.93 137.76L500.22 136.62L501.52 135.50L502.84 134.40L504.18 133.31L505.53 132.24L506.91 131.19L508.30 130.16L509.71 129.14L511.13 128.13L512.58 127.14L514.04 126.17L515.53 125.21L517.03 124.26L518.55 123.32L520.08 122.40L521.64 121.49L523.21 120.60L524.81 119.71L526.42 118.84L528.05 117.98L529.69 117.13L531.36 116.29L533.05 115.46L534.75 114.64L536.47 113.83L538.21 113.03L539.97 112.24L541.75 111.45L543.55 110.68L545.37 109.91L547.20 109.16L549.06 108.41L550.93 107.66L552.82 106.93L554.73 106.20L556.66 105.48L558.61 104.76L560.58 104.05L562.57 103.35L564.58 102.65L566.60 101.95L568.65 101.26L570.71 100.58L572.79 99.90L574.90 99.23L577.02 98.56L579.16 97.89L581.32 97.23L583.50 96.57L585.70 95.91L587.92 95.25L590.16 94.60L592.42 93.95L594.70 93.31L597.00 92.66L599.32 92.02L601.65 91.38L604.01 90.74L606.39 90.10L608.78 89.46L611.20 88.83L613.64 88.19L616.09 87.56L618.57 86.92L621.06 86.29L623.58 85.65L626.11 85.02L628.67 84.38L631.24 83.75L633.84 83.11L636.46 82.47L639.09 81.83L641.75 81.20L644.42 80.55L647.12 79.91L649.83 79.27L652.57 78.62L655.33 77.98L658.10 77.33L660.90 76.68L663.72 76.03L666.56 75.37L669.41 74.71L672.29 74.05" stroke="#00ffff" stroke-width="2.35" stroke-dasharray="10.2 7.3" stroke-dashoffset="1.16"/>
<path d="M452.67 402.65L452.84 397.31L453.04 392.19L453.24 387.30L453.47 382.60L453.71 378.09L453.97 373.75L454.25 369.57L454.54 365.54L454.85 361.65L455.17 357.90L455.52 354.27L455.87 350.76L456.25 347.36L456.64 344.07L457.05 340.88L457.47 337.78L457.91 334.77L458.37 331.85L458.86 329.02L459.39 326.26L459.94 323.58L460.50 320.97L461.08 318.44L461.67 315.96L462.28 313.56L462.91 311.21L463.55 308.93L464.21 306.70L464.88 304.53L465.57 302.42L466.27 300.35L467.00 298.34L467.73 296.37L468.49 294.45L469.26 292.58L470.04 290.75L470.85 288.97L471.67 287.22L472.50 285.52L473.36 283.86L474.22 282.23L475.11 280.65L476.01 279.10L476.93 277.59L477.87 276.11L478.82 274.66L479.79 273.25L480.78 271.87L481.79 270.53L482.81 269.21L483.85 267.93L484.90 266.67L485.98 265.45L487.07 264.25L488.17 263.08L489.30 261.94L490.44 260.83L491.60 259.74L492.78 258.68L493.98 257.65L495.19 256.64L496.42 255.65L497.67 254.69L498.93 253.75L500.22 252.84L501.52 251.95L502.84 251.07L504.18 250.21L505.53 249.38L506.91 248.57L508.30 247.77L509.71 247.00L511.13 246.25L512.58 245.52L514.04 244.81L515.53 244.12L517.03 243.45L518.55 242.80L520.08 242.17L521.64 241.55L523.21 240.95L524.81 240.37L526.42 239.81L528.05 239.27L529.69 238.74L531.36 238.24L533.05 237.74L534.75 237.27L536.47 236.81L538.21 236.36L539.97 235.94L541.75 235.53L543.55 235.13L545.37 234.75L547.20 234.39L549.06 234.04L550.93 233.70L552.82 233.38L554.73 233.08L556.66 232.78L558.61 232.51L560.58 232.25L562.57 232.00L564.58 231.77L566.60 231.55L568.65 231.35L570.71 231.15L572.79 230.98L574.90 230.81L577.02 230.66L579.16 230.52L581.32 230.39L583.50 230.28L585.70 230.18L587.92 230.09L590.16 230.01L592.42 229.95L594.70 229.89L597.00 229.85L599.32 229.82L601.65 229.80L604.01 229.80L606.39 229.82L608.78 229.86L611.20 229.91L613.64 229.97L616.09 230.04L618.57 230.12L621.06 230.21L623.58 230.32L626.11 230.43L628.67 230.55L631.24 230.69L633.84 230.83L636.46 230.99L639.09 231.15L641.75 231.33L644.42 231.51L647.12 231.70L649.83 231.91L652.57 232.12L655.33 232.34L658.10 232.58L660.90 232.82L663.72 233.07L666.56 233.32L669.41 233.59L672.29 233.87" stroke="#0000ff" stroke-width="2.35"/>
<path d="M453.78 403.18L454.02 398.62L454.28 394.24L454.56 390.02L454.85 385.94L455.16 382.01L455.48 378.20L455.82 374.52L456.18 370.96L456.55 367.50L456.94 364.15L457.35 360.90L457.77 357.74L458.21 354.67L458.67 351.68L459.14 348.78L459.63 345.95L460.14 343.20L460.66 340.51L461.20 337.89L461.75 335.34L462.33 332.85L462.92 330.42L463.55 328.05L464.21 325.73L464.88 323.47L465.57 321.25L466.27 319.09L467.00 316.97L467.73 314.90L468.49 312.87L469.26 310.89L470.04 308.95L470.85 307.05L471.67 305.19L472.50 303.36L473.36 301.57L474.22 299.82L475.11 298.10L476.01 296.42L476.93 294.77L477.87 293.15L478.82 291.56L479.79 290.00L480.78 288.47L481.79 286.96L482.81 285.49L483.85 284.04L484.90 282.62L485.98 281.22L487.07 279.85L488.17 278.50L489.30 277.18L490.44 275.88L491.60 274.60L492.78 273.34L493.98 272.10L495.19 270.89L496.42 269.69L497.67 268.51L498.93 267.36L500.22 266.22L501.52 265.10L502.84 264.00L504.18 262.91L505.53 261.84L506.91 260.79L508.30 259.76L509.71 258.74L511.13 257.73L512.58 256.74L514.04 255.77L515.53 254.81L517.03 253.86L518.55 252.92L520.08 252.00L521.64 251.09L523.21 250.20L524.81 249.31L526.42 248.44L528.05 247.58L529.69 246.73L531.36 245.89L533.05 245.06L534.75 244.24L536.47 243.43L538.21 242.63L539.97 241.84L541.75 241.05L543.55 240.28L545.37 239.51L547.20 238.76L549.06 238.01L550.93 237.26L552.82 236.53L554.73 235.80L556.66 235.08L558.61 234.36L560.58 233.65L562.57 232.95L564.58 232.25L566.60 231.55L568.65 230.86L570.71 230.18L572.79 229.50L574.90 228.83L577.02 228.16L579.16 227.49L581.32 226.83L583.50 226.17L585.70 225.51L587.92 224.85L590.16 224.20L592.42 223.55L594.70 222.91L597.00 222.26L599.32 221.62L601.65 220.98L604.01 220.34L606.39 219.70L608.78 219.06L611.20 218.43L613.64 217.79L616.09 217.16L618.57 216.52L621.06 215.89L623.58 215.25L626.11 214.62L628.67 213.98L631.24 213.35L633.84 212.71L636.46 212.07L639.09 211.43L641.75 210.80L644.42 210.15L647.12 209.51L649.83 208.87L652.57 208.22L655.33 207.58L658.10 206.93L660.90 206.28L663.72 205.63L666.56 204.97L669.41 204.31L672.29 203.65" stroke="#0000ff" stroke-width="2.35" stroke-dasharray="10.2 7.3" stroke-dashoffset="4.70"/>
</g>
<path transform="translate(99.50 413.10)" d="M-53.40 0.00L-51.59 -0.91L-50.68 -1.81L-49.77 -3.62L-48.87 -8.14L-48.87 -10.86L-49.77 -15.38L-50.68 -17.20L-51.59 -18.10L-53.40 -19.00M-53.40 0.00L-55.20 0.00M-53.40 0.00L-50.68 -0.91L-48.87 -3.62L-47.97 -8.14L-47.97 -10.86L-48.87 -15.38L-50.68 -18.10L-53.40 -19.00M-55.20 -19.00L-57.92 -18.10L-59.73 -15.38L-60.64 -10.86L-60.64 -8.14L-59.73 -3.62L-57.92 -0.91L-55.20 0.00M-55.20 -19.00L-53.40 -19.00M-55.20 -19.00L-57.02 -18.10L-57.92 -17.20L-58.83 -15.38L-59.73 -10.86L-59.73 -8.14L-58.83 -3.62L-57.92 -1.81L-57.02 -0.91L-55.20 0.00M-40.73 -1.81L-41.63 -0.91L-40.73 0.00L-39.82 -0.91L-40.73 -1.81M-41.63 -0.91L-39.82 -0.91M-40.73 -1.81L-40.73 0.00M-26.25 0.00L-24.44 -0.91L-23.53 -1.81L-22.62 -3.62L-21.72 -8.14L-21.72 -10.86L-22.62 -15.38L-23.53 -17.20L-24.44 -18.10L-26.25 -19.00M-26.25 0.00L-28.06 0.00M-26.25 0.00L-23.53 -0.91L-21.72 -3.62L-20.82 -8.14L-20.82 -10.86L-21.72 -15.38L-23.53 -18.10L-26.25 -19.00M-28.06 -19.00L-30.77 -18.10L-32.58 -15.38L-33.48 -10.86L-33.48 -8.14L-32.58 -3.62L-30.77 -0.91L-28.06 0.00M-28.06 -19.00L-26.25 -19.00M-28.06 -19.00L-29.87 -18.10L-30.77 -17.20L-31.68 -15.38L-32.58 -10.86L-32.58 -8.14L-31.68 -3.62L-30.77 -1.81L-29.87 -0.91L-28.06 0.00M-9.05 -18.10L-9.05 0.00M-9.05 -18.10L-8.15 -19.00L-8.15 0.00M-9.05 -18.10L-10.86 -16.29L-12.67 -15.38M-4.53 0.00L-8.15 0.00M-9.05 0.00L-12.67 0.00M-9.05 0.00L-8.15 0.00" stroke="#000" stroke-width="0.74" stroke-linejoin="round" stroke-linecap="round"/>
<path transform="translate(99.50 348.30)" d="M-35.30 0.00L-33.48 -0.91L-32.58 -1.81L-31.67 -3.62L-30.77 -8.14L-30.77 -10.86L-31.67 -15.38L-32.58 -17.20L-33.48 -18.10L-35.30 -19.00M-35.30 0.00L-37.11 0.00M-35.30 0.00L-32.58 -0.91L-30.77 -3.62L-29.87 -8.14L-29.87 -10.86L-30.77 -15.38L-32.58 -18.10L-35.30 -19.00M-37.11 -19.00L-39.82 -18.10L-41.63 -15.38L-42.53 -10.86L-42.53 -8.14L-41.63 -3.62L-39.82 -0.91L-37.11 0.00M-37.11 -19.00L-35.30 -19.00M-37.11 -19.00L-38.91 -18.10L-39.82 -17.20L-40.73 -15.38L-41.63 -10.86L-41.63 -8.14L-40.73 -3.62L-39.82 -1.81L-38.91 -0.91L-37.11 0.00M-22.62 -1.81L-23.53 -0.91L-22.62 0.00L-21.72 -0.91L-22.62 -1.81M-23.53 -0.91L-21.72 -0.91M-22.62 -1.81L-22.62 0.00M-9.05 -18.10L-9.05 0.00M-9.05 -18.10L-8.14 -19.00L-8.14 0.00M-9.05 -18.10L-10.86 -16.29L-12.67 -15.38M-4.52 0.00L-8.14 0.00M-9.05 0.00L-12.67 0.00M-9.05 0.00L-8.14 0.00" stroke="#000" stroke-width="0.74" stroke-linejoin="round" stroke-linecap="round"/>
<path transform="translate(99.50 283.50)" d="M-9.05 -18.10L-9.05 0.00M-9.05 -18.10L-8.15 -19.00L-8.15 0.00M-9.05 -18.10L-10.86 -16.29L-12.67 -15.38M-4.53 0.00L-8.15 0.00M-9.05 0.00L-12.67 0.00M-9.05 0.00L-8.15 0.00" stroke="#000" stroke-width="0.74" stroke-linejoin="round" stroke-linecap="round"/>
<path transform="translate(99.50 218.70)" d="M-27.15 -18.10L-27.15 0.00M-27.15 -18.10L-26.25 -19.00L-26.25 0.00M-27.15 -18.10L-28.96 -16.29L-30.77 -15.38M-22.62 0.00L-26.25 0.00M-27.15 0.00L-30.77 0.00M-27.15 0.00L-26.25 0.00M-8.15 0.00L-6.34 -0.91L-5.43 -1.81L-4.53 -3.62L-3.62 -8.14L-3.62 -10.86L-4.53 -15.38L-5.43 -17.20L-6.34 -18.10L-8.15 -19.00M-8.15 0.00L-9.96 0.00M-8.15 0.00L-5.43 -0.91L-3.62 -3.62L-2.72 -8.14L-2.72 -10.86L-3.62 -15.38L-5.43 -18.10L-8.15 -19.00M-9.96 -19.00L-12.67 -18.10L-14.48 -15.38L-15.39 -10.86L-15.39 -8.14L-14.48 -3.62L-12.67 -0.91L-9.96 0.00M-9.96 -19.00L-8.15 -19.00M-9.96 -19.00L-11.77 -18.10L-12.67 -17.20L-13.58 -15.38L-14.48 -10.86L-14.48 -8.14L-13.58 -3.62L-12.67 -1.81L-11.77 -0.91L-9.96 0.00" stroke="#000" stroke-width="0.74" stroke-linejoin="round" stroke-linecap="round"/>
<path transform="translate(99.50 153.90)" d="M-45.25 -18.10L-45.25 0.00M-45.25 -18.10L-44.35 -19.00L-44.35 0.00M-45.25 -18.10L-47.06 -16.29L-48.87 -15.38M-40.73 0.00L-44.35 0.00M-45.25 0.00L-48.87 0.00M-45.25 0.00L-44.35 0.00M-26.25 0.00L-24.44 -0.91L-23.53 -1.81L-22.62 -3.62L-21.72 -8.14L-21.72 -10.86L-22.62 -15.38L-23.53 -17.20L-24.44 -18.10L-26.25 -19.00M-26.25 0.00L-28.06 0.00M-26.25 0.00L-23.53 -0.91L-21.72 -3.62L-20.82 -8.14L-20.82 -10.86L-21.72 -15.38L-23.53 -18.10L-26.25 -19.00M-28.06 -19.00L-30.77 -18.10L-32.58 -15.38L-33.48 -10.86L-33.48 -8.14L-32.58 -3.62L-30.77 -0.91L-28.06 0.00M-28.06 -19.00L-26.25 -19.00M-28.06 -19.00L-29.87 -18.10L-30.77 -17.20L-31.68 -15.38L-32.58 -10.86L-32.58 -8.14L-31.68 -3.62L-30.77 -1.81L-29.87 -0.91L-28.06 0.00M-8.15 0.00L-6.34 -0.91L-5.43 -1.81L-4.53 -3.62L-3.62 -8.14L-3.62 -10.86L-4.53 -15.38L-5.43 -17.20L-6.34 -18.10L-8.15 -19.00M-8.15 0.00L-9.96 0.00M-8.15 0.00L-5.43 -0.91L-3.62 -3.62L-2.72 -8.14L-2.72 -10.86L-3.62 -15.38L-5.43 -18.10L-8.15 -19.00M-9.96 -19.00L-12.67 -18.10L-14.48 -15.38L-15.39 -10.86L-15.39 -8.14L-14.48 -3.62L-12.67 -0.91L-9.96 0.00M-9.96 -19.00L-8.15 -19.00M-9.96 -19.00L-11.77 -18.10L-12.67 -17.20L-13.58 -15.38L-14.48 -10.86L-14.48 -8.14L-13.58 -3.62L-12.67 -1.81L-11.77 -0.91L-9.96 0.00" stroke="#000" stroke-width="0.74" stroke-linejoin="round" stroke-linecap="round"/>
<path transform="translate(99.50 89.10)" d="M-63.35 -18.10L-63.35 0.00M-63.35 -18.10L-62.45 -19.00L-62.45 0.00M-63.35 -18.10L-65.16 -16.29L-66.97 -15.38M-58.83 0.00L-62.45 0.00M-63.35 0.00L-66.97 0.00M-63.35 0.00L-62.45 0.00M-44.35 0.00L-42.54 -0.91L-41.63 -1.81L-40.73 -3.62L-39.82 -8.14L-39.82 -10.86L-40.73 -15.38L-41.63 -17.20L-42.54 -18.10L-44.35 -19.00M-44.35 0.00L-46.16 0.00M-44.35 0.00L-41.63 -0.91L-39.82 -3.62L-38.92 -8.14L-38.92 -10.86L-39.82 -15.38L-41.63 -18.10L-44.35 -19.00M-46.16 -19.00L-48.87 -18.10L-50.68 -15.38L-51.59 -10.86L-51.59 -8.14L-50.68 -3.62L-48.87 -0.91L-46.16 0.00M-46.16 -19.00L-44.35 -19.00M-46.16 -19.00L-47.97 -18.10L-48.87 -17.20L-49.78 -15.38L-50.68 -10.86L-50.68 -8.14L-49.78 -3.62L-48.87 -1.81L-47.97 -0.91L-46.16 0.00M-26.25 0.00L-24.44 -0.91L-23.53 -1.81L-22.62 -3.62L-21.72 -8.14L-21.72 -10.86L-22.62 -15.38L-23.53 -17.20L-24.44 -18.10L-26.25 -19.00M-26.25 0.00L-28.06 0.00M-26.25 0.00L-23.53 -0.91L-21.72 -3.62L-20.82 -8.14L-20.82 -10.86L-21.72 -15.38L-23.53 -18.10L-26.25 -19.00M-28.06 -19.00L-30.77 -18.10L-32.58 -15.38L-33.48 -10.86L-33.48 -8.14L-32.58 -3.62L-30.77 -0.91L-28.06 0.00M-28.06 -19.00L-26.25 -19.00M-28.06 -19.00L-29.87 -18.10L-30.77 -17.20L-31.68 -15.38L-32.58 -10.86L-32.58 -8.14L-31.68 -3.62L-30.77 -1.81L-29.87 -0.91L-28.06 0.00M-8.15 0.00L-6.34 -0.91L-5.43 -1.81L-4.53 -3.62L-3.62 -8.14L-3.62 -10.86L-4.53 -15.38L-5.43 -17.20L-6.34 -18.10L-8.15 -19.00M-8.15 0.00L-9.96 0.00M-8.15 0.00L-5.43 -0.91L-3.62 -3.62L-2.72 -8.14L-2.72 -10.86L-3.62 -15.38L-5.43 -18.10L-8.15 -19.00M-9.96 -19.00L-12.67 -18.10L-14.48 -15.38L-15.39 -10.86L-15.39 -8.14L-14.48 -3.62L-12.67 -0.91L-9.96 0.00M-9.96 -19.00L-8.15 -19.00M-9.96 -19.00L-11.77 -18.10L-12.67 -17.20L-13.58 -15.38L-14.48 -10.86L-14.48 -8.14L-13.58 -3.62L-12.67 -1.81L-11.77 -0.91L-9.96 0.00" stroke="#000" stroke-width="0.74" stroke-linejoin="round" stroke-linecap="round"/>
<path transform="translate(158.82 439.20)" d="M-9.05 -18.10L-9.05 0.00M-9.05 -18.10L-8.15 -19.00L-8.15 0.00M-9.05 -18.10L-10.86 -16.29L-12.67 -15.38M-4.53 0.00L-8.15 0.00M-9.05 0.00L-12.67 0.00M-9.05 0.00L-8.15 0.00M9.96 0.00L11.77 -0.91L12.67 -1.81L13.58 -3.62L14.48 -8.14L14.48 -10.86L13.58 -15.38L12.67 -17.20L11.77 -18.10L9.96 -19.00M9.96 0.00L8.14 0.00M9.96 0.00L12.67 -0.91L14.48 -3.62L15.38 -8.14L15.38 -10.86L14.48 -15.38L12.67 -18.10L9.96 -19.00M8.14 -19.00L5.43 -18.10L3.62 -15.38L2.71 -10.86L2.71 -8.14L3.62 -3.62L5.43 -0.91L8.14 0.00M8.14 -19.00L9.96 -19.00M8.14 -19.00L6.33 -18.10L5.43 -17.20L4.53 -15.38L3.62 -10.86L3.62 -8.14L4.53 -3.62L5.43 -1.81L6.33 -0.91L8.14 0.00" stroke="#000" stroke-width="0.74" stroke-linejoin="round" stroke-linecap="round"/>
<path transform="translate(264.82 439.20)" d="M-18.10 -18.10L-18.10 0.00M-18.10 -18.10L-17.20 -19.00L-17.20 0.00M-18.10 -18.10L-19.91 -16.29L-21.72 -15.38M-13.58 0.00L-17.20 0.00M-18.10 0.00L-21.72 0.00M-18.10 0.00L-17.20 0.00M0.90 0.00L2.71 -0.91L3.62 -1.81L4.53 -3.62L5.43 -8.14L5.43 -10.86L4.53 -15.38L3.62 -17.20L2.71 -18.10L0.90 -19.00M0.90 0.00L-0.91 0.00M0.90 0.00L3.62 -0.91L5.43 -3.62L6.33 -8.14L6.33 -10.86L5.43 -15.38L3.62 -18.10L0.90 -19.00M-0.91 -19.00L-3.62 -18.10L-5.43 -15.38L-6.34 -10.86L-6.34 -8.14L-5.43 -3.62L-3.62 -0.91L-0.91 0.00M-0.91 -19.00L0.90 -19.00M-0.91 -19.00L-2.72 -18.10L-3.62 -17.20L-4.53 -15.38L-5.43 -10.86L-5.43 -8.14L-4.53 -3.62L-3.62 -1.81L-2.72 -0.91L-0.91 0.00M19.01 0.00L20.82 -0.91L21.72 -1.81L22.62 -3.62L23.53 -8.14L23.53 -10.86L22.62 -15.38L21.72 -17.20L20.82 -18.10L19.01 -19.00M19.01 0.00L17.20 0.00M19.01 0.00L21.72 -0.91L23.53 -3.62L24.44 -8.14L24.44 -10.86L23.53 -15.38L21.72 -18.10L19.01 -19.00M17.20 -19.00L14.48 -18.10L12.67 -15.38L11.77 -10.86L11.77 -8.14L12.67 -3.62L14.48 -0.91L17.20 0.00M17.20 -19.00L19.01 -19.00M17.20 -19.00L15.39 -18.10L14.48 -17.20L13.58 -15.38L12.67 -10.86L12.67 -8.14L13.58 -3.62L14.48 -1.81L15.39 -0.91L17.20 0.00" stroke="#000" stroke-width="0.74" stroke-linejoin="round" stroke-linecap="round"/>
<path transform="translate(370.82 439.20)" d="M-27.15 -18.10L-27.15 0.00M-27.15 -18.10L-26.25 -19.00L-26.25 0.00M-27.15 -18.10L-28.96 -16.29L-30.77 -15.38M-22.62 0.00L-26.25 0.00M-27.15 0.00L-30.77 0.00M-27.15 0.00L-26.25 0.00M-8.15 0.00L-6.34 -0.91L-5.43 -1.81L-4.53 -3.62L-3.62 -8.14L-3.62 -10.86L-4.53 -15.38L-5.43 -17.20L-6.34 -18.10L-8.15 -19.00M-8.15 0.00L-9.96 0.00M-8.15 0.00L-5.43 -0.91L-3.62 -3.62L-2.72 -8.14L-2.72 -10.86L-3.62 -15.38L-5.43 -18.10L-8.15 -19.00M-9.96 -19.00L-12.67 -18.10L-14.48 -15.38L-15.39 -10.86L-15.39 -8.14L-14.48 -3.62L-12.67 -0.91L-9.96 0.00M-9.96 -19.00L-8.15 -19.00M-9.96 -19.00L-11.77 -18.10L-12.67 -17.20L-13.58 -15.38L-14.48 -10.86L-14.48 -8.14L-13.58 -3.62L-12.67 -1.81L-11.77 -0.91L-9.96 0.00M9.96 0.00L11.77 -0.91L12.67 -1.81L13.58 -3.62L14.48 -8.14L14.48 -10.86L13.58 -15.38L12.67 -17.20L11.77 -18.10L9.96 -19.00M9.96 0.00L8.14 0.00M9.96 0.00L12.67 -0.91L14.48 -3.62L15.38 -8.14L15.38 -10.86L14.48 -15.38L12.67 -18.10L9.96 -19.00M8.14 -19.00L5.43 -18.10L3.62 -15.38L2.71 -10.86L2.71 -8.14L3.62 -3.62L5.43 -0.91L8.14 0.00M8.14 -19.00L9.96 -19.00M8.14 -19.00L6.33 -18.10L5.43 -17.20L4.53 -15.38L3.62 -10.86L3.62 -8.14L4.53 -3.62L5.43 -1.81L6.33 -0.91L8.14 0.00M28.05 0.00L29.87 -0.91L30.77 -1.81L31.68 -3.62L32.58 -8.14L32.58 -10.86L31.68 -15.38L30.77 -17.20L29.87 -18.10L28.05 -19.00M28.05 0.00L26.25 0.00M28.05 0.00L30.77 -0.91L32.58 -3.62L33.48 -8.14L33.48 -10.86L32.58 -15.38L30.77 -18.10L28.05 -19.00M26.25 -19.00L23.53 -18.10L21.72 -15.38L20.82 -10.86L20.82 -8.14L21.72 -3.62L23.53 -0.91L26.25 0.00M26.25 -19.00L28.05 -19.00M26.25 -19.00L24.44 -18.10L23.53 -17.20L22.62 -15.38L21.72 -10.86L21.72 -8.14L22.62 -3.62L23.53 -1.81L24.44 -0.91L26.25 0.00" stroke="#000" stroke-width="0.74" stroke-linejoin="round" stroke-linecap="round"/>
<path transform="translate(496.74 439.20)" d="M-18.10 -18.10L-18.10 0.00M-18.10 -18.10L-17.20 -19.00L-17.20 0.00M-18.10 -18.10L-19.91 -16.29L-21.72 -15.38M-13.58 0.00L-17.20 0.00M-18.10 0.00L-21.72 0.00M-18.10 0.00L-17.20 0.00M0.90 0.00L2.71 -0.91L3.62 -1.81L4.53 -3.62L5.43 -8.14L5.43 -10.86L4.53 -15.38L3.62 -17.20L2.71 -18.10L0.90 -19.00M0.90 0.00L-0.91 0.00M0.90 0.00L3.62 -0.91L5.43 -3.62L6.33 -8.14L6.33 -10.86L5.43 -15.38L3.62 -18.10L0.90 -19.00M-0.91 -19.00L-3.62 -18.10L-5.43 -15.38L-6.34 -10.86L-6.34 -8.14L-5.43 -3.62L-3.62 -0.91L-0.91 0.00M-0.91 -19.00L0.90 -19.00M-0.91 -19.00L-2.72 -18.10L-3.62 -17.20L-4.53 -15.38L-5.43 -10.86L-5.43 -8.14L-4.53 -3.62L-3.62 -1.81L-2.72 -0.91L-0.91 0.00M19.01 0.00L20.82 -0.91L21.72 -1.81L22.62 -3.62L23.53 -8.14L23.53 -10.86L22.62 -15.38L21.72 -17.20L20.82 -18.10L19.01 -19.00M19.01 0.00L17.20 0.00M19.01 0.00L21.72 -0.91L23.53 -3.62L24.44 -8.14L24.44 -10.86L23.53 -15.38L21.72 -18.10L19.01 -19.00M17.20 -19.00L14.48 -18.10L12.67 -15.38L11.77 -10.86L11.77 -8.14L12.67 -3.62L14.48 -0.91L17.20 0.00M17.20 -19.00L19.01 -19.00M17.20 -19.00L15.39 -18.10L14.48 -17.20L13.58 -15.38L12.67 -10.86L12.67 -8.14L13.58 -3.62L14.48 -1.81L15.39 -0.91L17.20 0.00" stroke="#000" stroke-width="0.74" stroke-linejoin="round" stroke-linecap="round"/>
<path transform="translate(615.79 439.20)" d="M-27.15 -18.10L-27.15 0.00M-27.15 -18.10L-26.25 -19.00L-26.25 0.00M-27.15 -18.10L-28.96 -16.29L-30.77 -15.38M-22.62 0.00L-26.25 0.00M-27.15 0.00L-30.77 0.00M-27.15 0.00L-26.25 0.00M-8.15 0.00L-6.34 -0.91L-5.43 -1.81L-4.53 -3.62L-3.62 -8.14L-3.62 -10.86L-4.53 -15.38L-5.43 -17.20L-6.34 -18.10L-8.15 -19.00M-8.15 0.00L-9.96 0.00M-8.15 0.00L-5.43 -0.91L-3.62 -3.62L-2.72 -8.14L-2.72 -10.86L-3.62 -15.38L-5.43 -18.10L-8.15 -19.00M-9.96 -19.00L-12.67 -18.10L-14.48 -15.38L-15.39 -10.86L-15.39 -8.14L-14.48 -3.62L-12.67 -0.91L-9.96 0.00M-9.96 -19.00L-8.15 -19.00M-9.96 -19.00L-11.77 -18.10L-12.67 -17.20L-13.58 -15.38L-14.48 -10.86L-14.48 -8.14L-13.58 -3.62L-12.67 -1.81L-11.77 -0.91L-9.96 0.00M9.96 0.00L11.77 -0.91L12.67 -1.81L13.58 -3.62L14.48 -8.14L14.48 -10.86L13.58 -15.38L12.67 -17.20L11.77 -18.10L9.96 -19.00M9.96 0.00L8.14 0.00M9.96 0.00L12.67 -0.91L14.48 -3.62L15.38 -8.14L15.38 -10.86L14.48 -15.38L12.67 -18.10L9.96 -19.00M8.14 -19.00L5.43 -18.10L3.62 -15.38L2.71 -10.86L2.71 -8.14L3.62 -3.62L5.43 -0.91L8.14 0.00M8.14 -19.00L9.96 -19.00M8.14 -19.00L6.33 -18.10L5.43 -17.20L4.53 -15.38L3.62 -10.86L3.62 -8.14L4.53 -3.62L5.43 -1.81L6.33 -0.91L8.14 0.00M28.05 0.00L29.87 -0.91L30.77 -1.81L31.68 -3.62L32.58 -8.14L32.58 -10.86L31.68 -15.38L30.77 -17.20L29.87 -18.10L28.05 -19.00M28.05 0.00L26.25 0.00M28.05 0.00L30.77 -0.91L32.58 -3.62L33.48 -8.14L33.48 -10.86L32.58 -15.38L30.77 -18.10L28.05 -19.00M26.25 -19.00L23.53 -18.10L21.72 -15.38L20.82 -10.86L20.82 -8.14L21.72 -3.62L23.53 -0.91L26.25 0.00M26.25 -19.00L28.05 -19.00M26.25 -19.00L24.44 -18.10L23.53 -17.20L22.62 -15.38L21.72 -10.86L21.72 -8.14L22.62 -3.62L23.53 -1.81L24.44 -0.91L26.25 0.00" stroke="#000" stroke-width="0.74" stroke-linejoin="round" stroke-linecap="round"/>
<path transform="translate(339.00 351.50)" d="M6.34 -16.21L4.93 -13.39L4.23 -11.28L3.52 -7.75L3.52 -4.93L4.23 -1.41L4.93 0.70L6.34 3.52M6.34 -16.21L7.75 -17.62M6.34 -16.21L4.93 -14.10L3.52 -11.28L2.82 -7.75L2.82 -4.93L3.52 -1.41L4.93 1.41L6.34 3.52M6.34 3.52L7.75 4.93M14.80 0.00L12.69 -0.70L11.98 -2.11L11.98 -3.52L12.69 -4.93L14.80 -5.64M14.80 0.00L13.39 -0.70L12.69 -2.11L12.69 -3.52L13.39 -4.93L14.80 -5.64M14.80 0.00L16.92 0.00L18.33 -0.70L19.74 -2.11M19.74 -8.46L19.03 -9.16L17.62 -9.87L14.80 -9.87L13.39 -9.16L12.69 -8.46L12.69 -7.75L13.39 -7.75L13.39 -8.46M19.74 -8.46L20.45 -7.05L20.45 -2.11L21.15 -0.70L21.85 0.00M19.74 -8.46L19.74 -7.05M14.80 -5.64L19.03 -6.34L19.74 -7.05M19.74 -7.05L19.74 -2.11M21.85 0.00L22.56 0.00M21.85 0.00L20.45 -0.70L19.74 -2.11M27.49 -16.21L28.90 -13.39L29.61 -11.28L30.31 -7.75L30.31 -4.93L29.61 -1.41L28.90 0.70L27.49 3.52M27.49 -16.21L26.08 -17.62M27.49 -16.21L28.90 -14.10L30.31 -11.28L31.02 -7.75L31.02 -4.93L30.31 -1.41L28.90 1.41L27.49 3.52M27.49 3.52L26.08 4.93" stroke="#00ffff" stroke-width="1.30" stroke-linejoin="round" stroke-linecap="round"/>
<path transform="translate(639.40 351.50)" d="M6.34 -16.21L4.93 -13.39L4.23 -11.28L3.52 -7.75L3.52 -4.93L4.23 -1.41L4.93 0.70L6.34 3.52M6.34 -16.21L7.75 -17.62M6.34 -16.21L4.93 -14.10L3.52 -11.28L2.82 -7.75L2.82 -4.93L3.52 -1.41L4.93 1.41L6.34 3.52M6.34 3.52L7.75 4.93M14.10 -7.75L14.10 -2.11M14.10 -7.75L15.51 -9.16L16.92 -9.87L18.33 -9.87M14.10 -7.75L14.10 -14.80L13.39 -14.80M13.39 0.00L13.39 -14.80M11.28 -14.80L13.39 -14.80M18.33 -9.87L20.45 -9.16L21.85 -7.75L22.56 -5.64L22.56 -4.23L21.85 -2.11L20.45 -0.70L18.33 0.00M18.33 -9.87L19.74 -9.16L21.15 -7.75L21.85 -5.64L21.85 -4.23L21.15 -2.11L19.74 -0.70L18.33 0.00M14.10 -2.11L15.51 -0.70L16.92 0.00L18.33 0.00M14.10 -2.11L14.10 0.00M28.20 -16.21L29.61 -13.39L30.31 -11.28L31.02 -7.75L31.02 -4.93L30.31 -1.41L29.61 0.70L28.20 3.52M28.20 -16.21L26.79 -17.62M28.20 -16.21L29.61 -14.10L31.02 -11.28L31.72 -7.75L31.72 -4.93L31.02 -1.41L29.61 1.41L28.20 3.52M28.20 3.52L26.79 4.93" stroke="#00ffff" stroke-width="1.30" stroke-linejoin="round" stroke-linecap="round"/>
<path transform="translate(324.00 478.60)" d="M7.10 -12.74L1.64 6.37M8.01 -12.74L2.55 6.37M7.10 -12.74L6.19 -8.19L5.28 -3.64L5.28 -0.91L7.10 0.00L8.92 0.00L11.65 -0.91L13.47 -2.73L15.29 -6.37M17.11 -12.74L15.29 -6.37L14.38 -2.73L14.38 -0.91L15.29 0.00L17.11 0.00L18.93 -1.82L19.84 -3.64M18.02 -12.74L16.20 -6.37L15.29 -2.73L15.29 -0.91M26.94 8.55L28.03 8.01L28.57 7.46L29.12 6.37L29.67 3.64L29.67 2.00L29.12 -0.73L28.57 -1.82L28.03 -2.37L26.94 -2.91M26.94 8.55L25.84 8.55M26.94 8.55L28.57 8.01L29.67 6.37L30.21 3.64L30.21 2.00L29.67 -0.73L28.57 -2.37L26.94 -2.91M25.84 -2.91L24.21 -2.37L23.11 -0.73L22.57 2.00L22.57 3.64L23.11 6.37L24.21 8.01L25.84 8.55M25.84 -2.91L26.94 -2.91M25.84 -2.91L24.75 -2.37L24.21 -1.82L23.66 -0.73L23.11 2.00L23.11 3.64L23.66 6.37L24.21 7.46L24.75 8.01L25.84 8.55M54.60 -20.93L52.78 -17.29L51.87 -14.56L50.96 -10.01L50.96 -6.37L51.87 -1.82L52.78 0.91L54.60 4.55M54.60 -20.93L56.42 -22.75M54.60 -20.93L52.78 -18.20L50.96 -14.56L50.05 -10.01L50.05 -6.37L50.96 -1.82L52.78 1.82L54.60 4.55M54.60 4.55L56.42 6.37M77.35 0.00L77.35 -19.11M77.35 0.00L80.08 0.00M77.35 0.00L76.44 0.00M63.70 0.00L63.70 -19.11M63.70 0.00L60.97 0.00M63.70 0.00L66.43 0.00M63.70 -19.11L64.61 -19.11L70.07 -2.73M63.70 -19.11L60.97 -19.11M63.70 -19.11L70.07 0.00L76.44 -19.11M76.44 -19.11L76.44 0.00M76.44 -19.11L77.35 -19.11M77.35 -19.11L80.08 -19.11M76.44 0.00L73.71 0.00M94.73 2.82L94.54 4.30L93.96 5.69L93.05 6.87L91.86 7.79L90.48 8.36L89.00 8.55L87.51 8.36L86.13 7.79L84.94 6.87L84.03 5.69L83.46 4.30L83.27 2.82L83.46 1.34L84.03 -0.05L84.94 -1.23L86.13 -2.14L87.51 -2.72L89.00 -2.91L90.48 -2.72L91.86 -2.14L93.05 -1.23L93.96 -0.05L94.54 1.34L94.73 2.82M88.56 2.38L89.43 2.38L89.43 3.26L88.56 3.26L88.56 2.38M118.85 6.37L116.12 6.37M116.12 -10.01L116.12 -2.73M116.12 -10.01L117.94 -11.83L119.76 -12.74L121.58 -12.74M116.12 -10.01L116.12 -12.74L115.21 -12.74M115.21 6.37L112.48 6.37M115.21 6.37L116.12 6.37M115.21 6.37L115.21 -12.74M116.12 6.37L116.12 -2.73M121.58 0.00L119.76 0.00L117.94 -0.91L116.12 -2.73M121.58 0.00L123.40 -0.91L125.22 -2.73L126.13 -5.46L126.13 -7.28L125.22 -10.01L123.40 -11.83L121.58 -12.74M121.58 0.00L124.31 -0.91L126.13 -2.73L127.04 -5.46L127.04 -7.28L126.13 -10.01L124.31 -11.83L121.58 -12.74M112.48 -12.74L115.21 -12.74M137.96 -12.74L136.14 -11.83L134.32 -10.01L133.41 -7.28L133.41 -5.46L134.32 -2.73L136.14 -0.91L137.96 0.00M137.96 -12.74L135.23 -11.83L133.41 -10.01L132.50 -7.28L132.50 -5.46L133.41 -2.73L135.23 -0.91L137.96 0.00M137.96 -12.74L140.69 -12.74L142.51 -11.83L144.33 -10.01L144.33 -9.10L143.42 -8.19L142.51 -9.10L143.42 -10.01M137.96 0.00L139.78 0.00L142.51 -0.91L144.33 -2.73M149.24 -14.01L159.07 -14.01M163.44 -18.38L163.98 -17.84L163.44 -17.29L162.89 -17.84L162.89 -18.38L163.44 -19.47L163.98 -20.02L165.62 -20.57L167.80 -20.57M170.53 -11.83L170.53 -10.74M167.80 -20.57L168.90 -20.02L169.44 -19.47L169.99 -18.38L169.99 -17.29L169.44 -16.20L167.80 -15.11L165.62 -14.01M167.80 -20.57L169.44 -20.02L169.99 -19.47L170.53 -18.38L170.53 -17.29L169.99 -16.20L168.35 -15.11L165.62 -14.01M162.89 -9.10L162.89 -10.19M162.89 -10.19L162.89 -10.74L163.44 -12.38L164.53 -13.47L165.62 -14.01M162.89 -10.19L163.44 -10.74L164.53 -10.74M170.53 -10.74L169.99 -10.19L168.90 -9.65L167.26 -9.65L164.53 -10.74M170.53 -10.74L169.99 -9.65L169.44 -9.10L167.26 -9.10L164.53 -10.74M176.72 -20.93L178.54 -17.29L179.45 -14.56L180.36 -10.01L180.36 -6.37L179.45 -1.82L178.54 0.91L176.72 4.55M176.72 -20.93L174.90 -22.75M176.72 -20.93L178.54 -18.20L180.36 -14.56L181.27 -10.01L181.27 -6.37L180.36 -1.82L178.54 1.82L176.72 4.55M176.72 4.55L174.90 6.37" stroke="#000" stroke-width="0.74" stroke-linejoin="round" stroke-linecap="round"/>
<path transform="translate(26.50 324.60) rotate(-90)" d="M7.28 -24.57L8.19 -23.66L7.28 -22.75L6.37 -23.66L7.28 -24.57M6.37 -23.66L8.19 -23.66M7.28 -24.57L7.28 -22.75M18.20 0.00L18.20 -19.11M18.20 0.00L20.93 0.00M18.20 0.00L17.29 0.00M4.55 0.00L4.55 -19.11M4.55 0.00L1.82 0.00M4.55 0.00L7.28 0.00M4.55 -19.11L5.46 -19.11L10.92 -2.73M4.55 -19.11L1.82 -19.11M4.55 -19.11L10.92 0.00L17.29 -19.11M17.29 -19.11L17.29 0.00M17.29 -19.11L18.20 -19.11M18.20 -19.11L20.93 -19.11M17.29 0.00L14.56 0.00M45.50 -20.93L43.68 -17.29L42.77 -14.56L41.86 -10.01L41.86 -6.37L42.77 -1.82L43.68 0.91L45.50 4.55M45.50 -20.93L47.32 -22.75M45.50 -20.93L43.68 -18.20L41.86 -14.56L40.95 -10.01L40.95 -6.37L41.86 -1.82L43.68 1.82L45.50 4.55M45.50 4.55L47.32 6.37M68.25 0.00L68.25 -19.11M68.25 0.00L70.98 0.00M68.25 0.00L67.34 0.00M54.60 0.00L54.60 -19.11M54.60 0.00L51.87 0.00M54.60 0.00L57.33 0.00M54.60 -19.11L55.51 -19.11L60.97 -2.73M54.60 -19.11L51.87 -19.11M54.60 -19.11L60.97 0.00L67.34 -19.11M67.34 -19.11L67.34 0.00M67.34 -19.11L68.25 -19.11M68.25 -19.11L70.98 -19.11M67.34 0.00L64.61 0.00M85.63 2.82L85.44 4.30L84.86 5.69L83.95 6.87L82.76 7.79L81.38 8.36L79.90 8.55L78.41 8.36L77.03 7.79L75.84 6.87L74.93 5.69L74.36 4.30L74.17 2.82L74.36 1.34L74.93 -0.05L75.84 -1.23L77.03 -2.14L78.41 -2.72L79.90 -2.91L81.38 -2.72L82.76 -2.14L83.95 -1.23L84.86 -0.05L85.44 1.34L85.63 2.82M79.46 2.38L80.33 2.38L80.33 3.26L79.46 3.26L79.46 2.38M105.20 -12.74L106.11 -12.74M105.20 -12.74L110.66 0.00M105.20 -12.74L103.38 -12.74M106.11 -12.74L108.84 -12.74M106.11 -12.74L107.93 -8.19M106.11 -12.74L110.66 -1.82M106.11 -12.74L108.84 -6.37M107.93 -8.19L110.66 -1.82M107.93 -8.19L108.84 -6.37M116.12 -12.74L110.66 0.00M116.12 -12.74L117.94 -12.74M116.12 -12.74L112.48 -12.74M110.66 -1.82L108.84 -6.37M110.66 0.00L108.84 3.64L107.02 5.46L105.20 6.37L104.29 6.37L103.38 5.46L104.29 4.55L105.20 5.46M123.40 0.00L123.40 -12.74M123.40 0.00L120.67 0.00M123.40 0.00L124.31 0.00M124.31 -7.28L124.31 -12.74L123.40 -12.74M124.31 -7.28L125.22 -10.01L127.04 -11.83L128.86 -12.74L131.59 -12.74L132.50 -11.83L132.50 -10.92L131.59 -10.01L130.68 -10.92L131.59 -11.83M124.31 -7.28L124.31 0.00M123.40 -12.74L120.67 -12.74M127.04 0.00L124.31 0.00M136.50 -14.01L146.33 -14.01M153.97 -20.02L153.97 -9.10M153.97 -20.02L154.52 -20.57L154.52 -9.10M153.97 -20.02L152.88 -18.93L151.79 -18.38M156.70 -9.10L154.52 -9.10M153.97 -9.10L151.79 -9.10M153.97 -9.10L154.52 -9.10M163.98 -20.93L165.80 -17.29L166.71 -14.56L167.62 -10.01L167.62 -6.37L166.71 -1.82L165.80 0.91L163.98 4.55M163.98 -20.93L162.16 -22.75M163.98 -20.93L165.80 -18.20L167.62 -14.56L168.53 -10.01L168.53 -6.37L167.62 -1.82L165.80 1.82L163.98 4.55M163.98 4.55L162.16 6.37" stroke="#000" stroke-width="0.74" stroke-linejoin="round" stroke-linecap="round"/></svg></body></html>
